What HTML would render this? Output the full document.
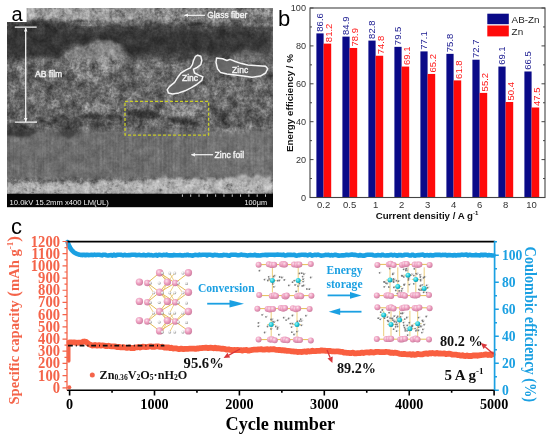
<!DOCTYPE html>
<html><head><meta charset="utf-8"><style>
html,body{margin:0;padding:0;background:#fff;}
body{width:550px;height:439px;overflow:hidden;}
svg{display:block;filter:blur(0.35px);}
</style></head><body>
<svg width="550" height="439" viewBox="0 0 550 439">
<rect width="550" height="439" fill="#fff"/>
<defs>
<clipPath id="semclip"><rect x="7" y="8" width="266" height="186"/></clipPath>
<filter id="tex" x="0" y="0" width="1" height="1" filterUnits="objectBoundingBox"><feTurbulence type="fractalNoise" baseFrequency="0.45" numOctaves="2" seed="4" result="n"/><feColorMatrix in="n" type="matrix" values="0 0 0 0 1  0 0 0 0 1  0 0 0 0 1  1.8 0 0 0 -0.9"/></filter>
<filter id="tex2" x="0" y="0" width="1" height="1" filterUnits="objectBoundingBox"><feTurbulence type="fractalNoise" baseFrequency="0.45" numOctaves="2" seed="11" result="n"/><feColorMatrix in="n" type="matrix" values="0 0 0 0 0  0 0 0 0 0  0 0 0 0 0  1.8 0 0 0 -0.9"/></filter>
<filter id="bl1" x="-10%" y="-10%" width="120%" height="120%"><feGaussianBlur stdDeviation="1"/></filter>
<filter id="bl2" x="-20%" y="-20%" width="140%" height="140%"><feGaussianBlur stdDeviation="2"/></filter>
<filter id="bl3" x="-20%" y="-20%" width="140%" height="140%"><feGaussianBlur stdDeviation="3.5"/></filter>
<linearGradient id="gfib" x1="0" y1="0" x2="1" y2="0"><stop offset="0" stop-color="#a0a0a0"/><stop offset="0.45" stop-color="#949494"/><stop offset="0.7" stop-color="#7e7e7e"/><stop offset="1" stop-color="#767676"/></linearGradient>
<linearGradient id="gfoil" x1="0" y1="0" x2="1" y2="0"><stop offset="0" stop-color="#6c6c6c"/><stop offset="0.6" stop-color="#6c6c6c"/><stop offset="1" stop-color="#747474"/></linearGradient>
</defs>
<g clip-path="url(#semclip)">
<rect x="7" y="8" width="266" height="186" fill="#646464"/>
<rect x="7" y="8" width="266" height="18" fill="url(#gfib)"/>
<rect x="7" y="20" width="266" height="6" fill="#707070" filter="url(#bl1)"/>
<path d="M7.0 26.9 L13.0 26.4 L19.0 24.8 L25.0 24.8 L31.0 25.2 L37.0 26.6 L43.0 27.8 L49.0 27.0 L55.0 26.3 L61.0 26.4 L67.0 25.1 L73.0 25.8 L79.0 25.6 L85.0 26.9 L91.0 27.2 L97.0 25.6 L103.0 25.3 L109.0 24.4 L115.0 23.3 L121.0 24.0 L127.0 25.4 L133.0 25.8 L139.0 24.1 L145.0 22.7 L151.0 22.3 L157.0 22.0 L163.0 23.2 L169.0 24.4 L175.0 24.7 L181.0 23.6 L187.0 22.7 L193.0 22.4 L199.0 23.3 L205.0 24.2 L211.0 25.0 L217.0 26.5 L223.0 25.6 L229.0 24.9 L235.0 24.0 L241.0 25.7 L247.0 26.8 L253.0 26.7 L259.0 27.2 L265.0 27.1 L271.0 26.1 L271.0 52.8 L267.0 54.9 L263.0 53.1 L259.0 53.6 L255.0 51.6 L251.0 50.2 L247.0 50.1 L243.0 50.6 L239.0 51.7 L235.0 51.9 L231.0 56.8 L227.0 58.7 L223.0 58.9 L219.0 57.2 L215.0 57.4 L211.0 55.4 L207.0 55.4 L203.0 54.0 L199.0 56.4 L195.0 57.1 L191.0 58.9 L187.0 60.0 L183.0 59.1 L179.0 61.0 L175.0 60.2 L171.0 57.6 L167.0 57.5 L163.0 56.7 L159.0 57.0 L155.0 57.3 L151.0 58.5 L147.0 59.9 L143.0 59.0 L139.0 61.4 L135.0 61.7 L131.0 59.5 L127.0 44.4 L123.0 44.0 L119.0 42.9 L115.0 43.7 L111.0 45.4 L107.0 46.5 L103.0 48.4 L99.0 47.7 L95.0 47.4 L91.0 46.9 L87.0 44.7 L83.0 43.7 L79.0 43.5 L75.0 44.0 L71.0 44.9 L67.0 52.9 L63.0 54.2 L59.0 59.3 L55.0 58.7 L51.0 58.3 L47.0 56.6 L43.0 56.5 L39.0 55.6 L35.0 55.3 L31.0 54.9 L27.0 56.7 L23.0 58.0 L19.0 59.3 L15.0 58.0 L11.0 57.7 L7.0 59.0Z" fill="#464646" filter="url(#bl1)"/>
<path d="M10.0 31.4 L18.0 29.5 L26.0 30.0 L34.0 31.6 L42.0 31.7 L50.0 30.8 L58.0 30.6 L66.0 29.1 L74.0 30.5 L82.0 33.3 L90.0 32.0 L98.0 31.0 L106.0 29.5 L114.0 30.8 L122.0 31.5 L130.0 32.6 L138.0 31.5 L146.0 29.6 L154.0 30.6 L162.0 32.1 L170.0 31.7 L178.0 31.7 L186.0 29.9 L194.0 29.5 L202.0 30.6 L210.0 33.2 L218.0 31.6 L226.0 30.3 L234.0 30.3 L242.0 31.4 L250.0 33.2 L258.0 31.8 L266.0 30.8 L266.0 47.0 L258.0 48.8 L250.0 47.7 L242.0 47.0 L234.0 50.0 L226.0 51.0 L218.0 52.9 L210.0 53.7 L202.0 51.7 L194.0 51.5 L186.0 51.3 L178.0 52.7 L170.0 53.7 L162.0 52.5 L154.0 50.6 L146.0 51.1 L138.0 55.4 L130.0 56.9 L122.0 45.9 L114.0 43.0 L106.0 41.8 L98.0 42.8 L90.0 44.7 L82.0 45.4 L74.0 43.4 L66.0 43.1 L58.0 52.6 L50.0 54.5 L42.0 54.3 L34.0 52.6 L26.0 51.1 L18.0 51.6 L10.0 52.6Z" fill="#363636" filter="url(#bl2)"/>
<path d="M7 22 L40 21 L66 23 L66 40 L62 50 L58 56 L40 57 L20 56 L7 55Z" fill="#353535" filter="url(#bl2)"/>
<path d="M64 55 L68 50 L74 49 L78 46 L84 47 L88 43 L94 42 L98 39 L104 41 L110 40 L114 43 L119 44 L121 49 L124 52 L125 58 L123 64 L118 70 L112 74 L104 79 L96 82 L88 80 L80 77 L74 71 L68 64Z" fill="#7c7c7c" filter="url(#bl1)"/>
<path d="M92 47 L100 43 L110 45 L117 50 L118 57 L113 63 L104 65 L96 61 L91 54Z" fill="#8a8a8a" filter="url(#bl2)"/>
<path d="M72 62 L84 60 L92 70 L84 76 L74 72Z" fill="#7a7a7a" filter="url(#bl1)"/>
<ellipse cx="30" cy="68" rx="16" ry="9" fill="#6e6e6e" filter="url(#bl2)"/>
<ellipse cx="150" cy="68" rx="18" ry="10" fill="#6e6e6e" filter="url(#bl2)"/>
<ellipse cx="215" cy="92" rx="25" ry="8" fill="#707070" filter="url(#bl2)"/>
<ellipse cx="255" cy="100" rx="16" ry="9" fill="#6e6e6e" filter="url(#bl2)"/>
<ellipse cx="45" cy="100" rx="22" ry="8" fill="#6e6e6e" filter="url(#bl2)"/>
<ellipse cx="110" cy="95" rx="20" ry="8" fill="#707070" filter="url(#bl2)"/>
<ellipse cx="140" cy="100" rx="15" ry="5" fill="#6c6c6c" filter="url(#bl2)"/>
<ellipse cx="60" cy="85" rx="12" ry="6" fill="#666" filter="url(#bl2)"/>
<ellipse cx="130" cy="85" rx="10" ry="6" fill="#686868" filter="url(#bl2)"/>
<ellipse cx="240" cy="80" rx="14" ry="6" fill="#6a6a6a" filter="url(#bl2)"/>
<path d="M7.0 130.3 L11.0 130.6 L15.0 131.2 L19.0 131.6 L23.0 132.3 L27.0 131.4 L31.0 131.8 L35.0 132.0 L39.0 131.0 L43.0 130.8 L47.0 129.6 L51.0 136.0 L55.0 136.1 L59.0 137.1 L63.0 137.7 L67.0 137.4 L71.0 137.6 L75.0 137.4 L79.0 137.6 L83.0 130.9 L87.0 129.7 L91.0 130.4 L95.0 129.8 L99.0 130.9 L103.0 130.9 L107.0 131.2 L111.0 132.4 L115.0 131.5 L119.0 131.1 L123.0 131.4 L127.0 127.7 L131.0 126.8 L135.0 127.6 L139.0 127.5 L143.0 128.3 L147.0 128.3 L151.0 129.5 L155.0 129.2 L159.0 129.2 L163.0 128.6 L167.0 127.3 L171.0 126.9 L175.0 126.6 L179.0 126.8 L183.0 127.3 L187.0 128.1 L191.0 128.9 L195.0 128.4 L199.0 129.0 L203.0 128.2 L207.0 127.5 L211.0 126.6 L215.0 126.0 L219.0 125.9 L223.0 126.5 L227.0 127.3 L231.0 127.1 L235.0 128.5 L239.0 127.4 L243.0 127.9 L247.0 127.5 L251.0 125.9 L255.0 126.4 L259.0 125.9 L263.0 126.4 L267.0 126.2 L271.0 126.9 L271.0 175.2 L267.0 177.2 L263.0 179.1 L259.0 177.8 L255.0 175.5 L251.0 176.0 L247.0 175.7 L243.0 178.5 L239.0 179.0 L235.0 176.3 L231.0 174.9 L227.0 179.1 L223.0 180.3 L219.0 181.1 L215.0 180.5 L211.0 178.0 L207.0 178.9 L203.0 181.1 L199.0 180.8 L195.0 180.8 L191.0 178.6 L187.0 178.8 L183.0 179.8 L179.0 180.6 L175.0 181.8 L171.0 179.8 L167.0 178.9 L163.0 179.9 L159.0 181.2 L155.0 182.0 L151.0 180.5 L147.0 182.3 L143.0 183.5 L139.0 184.4 L135.0 185.6 L131.0 184.9 L127.0 182.3 L123.0 183.1 L119.0 184.0 L115.0 184.8 L111.0 184.4 L107.0 183.4 L103.0 183.2 L99.0 183.4 L95.0 185.1 L91.0 185.5 L87.0 183.5 L83.0 183.1 L79.0 183.3 L75.0 185.8 L71.0 185.3 L67.0 183.0 L63.0 182.8 L59.0 183.4 L55.0 184.8 L51.0 185.8 L47.0 184.6 L43.0 182.2 L39.0 183.5 L35.0 184.4 L31.0 186.0 L27.0 184.4 L23.0 183.1 L19.0 181.8 L15.0 183.8 L11.0 185.4 L7.0 185.4Z" fill="url(#gfoil)" filter="url(#bl1)"/>
<path d="M7 124 L16 123 L28 126 L36 131 L30 137 L18 137 L7 136Z" fill="#3e3e3e" filter="url(#bl1)"/>
<path d="M50 116 L60 115 L70 118 L78 122 L80 128 L75 136 L68 139 L60 134 L55 124Z" fill="#474747" filter="url(#bl1)"/>
<path d="M80 115 L95 114 L110 115 L124 117 L124 120 L110 120 L95 119 L80 119Z" fill="#404040" filter="url(#bl1)"/>
<path d="M88 120 L104 121 L116 123 L112 129 L100 131 L90 127Z" fill="#535353" filter="url(#bl1)"/>
<path d="M126 111 L136 110 L148 111 L160 114 L163 118 L150 119 L138 118 L128 116Z" fill="#383838" filter="url(#bl1)"/>
<path d="M166 117 L178 118 L190 120 L198 122 L196 126 L184 125 L172 122Z" fill="#3e3e3e" filter="url(#bl1)"/>
<path d="M210 110 L218 108 L228 114 L234 122 L228 129 L218 126 L212 118Z" fill="#505050" filter="url(#bl1)"/>
<path d="M236 112 L250 110 L262 114 L272 118 L272 122 L256 121 L242 118Z" fill="#5a5a5a" filter="url(#bl1)"/>
<path d="M165 105 L185 103 L200 106 L204 114 L190 117 L170 115Z" fill="#858585" filter="url(#bl1)"/>
<path d="M84 104 L100 102 L118 106 L120 113 L100 113 L86 111Z" fill="#858585" filter="url(#bl1)"/>
<path d="M7.0 181.0 L10.0 182.8 L13.0 183.3 L16.0 184.3 L19.0 182.6 L22.0 180.9 L25.0 182.2 L28.0 183.0 L31.0 184.3 L34.0 182.5 L37.0 181.1 L40.0 181.8 L43.0 184.0 L46.0 183.8 L49.0 183.1 L52.0 182.3 L55.0 182.5 L58.0 183.1 L61.0 184.1 L64.0 184.7 L67.0 181.6 L70.0 182.2 L73.0 182.3 L76.0 183.5 L79.0 183.5 L82.0 182.4 L85.0 182.2 L88.0 181.7 L91.0 184.0 L94.0 184.6 L97.0 182.9 L100.0 179.8 L103.0 179.2 L106.0 180.8 L109.0 181.9 L112.0 181.8 L115.0 179.9 L118.0 179.4 L121.0 181.3 L124.0 182.3 L127.0 181.5 L130.0 180.8 L133.0 180.0 L136.0 180.3 L139.0 182.3 L142.0 182.2 L145.0 181.3 L148.0 180.0 L151.0 177.5 L154.0 180.2 L157.0 179.2 L160.0 178.4 L163.0 177.6 L166.0 176.9 L169.0 179.1 L172.0 179.1 L175.0 179.2 L178.0 177.9 L181.0 177.4 L184.0 179.3 L187.0 179.6 L190.0 179.6 L193.0 177.9 L196.0 177.3 L199.0 178.2 L202.0 180.3 L205.0 180.3 L208.0 178.0 L211.0 177.4 L214.0 177.2 L217.0 179.8 L220.0 180.0 L223.0 179.3 L226.0 177.7 L229.0 177.2 L232.0 176.5 L235.0 177.7 L238.0 175.5 L241.0 174.8 L244.0 174.3 L247.0 175.7 L250.0 176.6 L253.0 177.2 L256.0 174.5 L259.0 174.2 L262.0 175.7 L265.0 177.9 L268.0 176.3 L271.0 175.4 L273.0 194.0 L7.0 194.0Z" fill="#b0b0b0" filter="url(#bl1)"/>
<ellipse cx="67.9" cy="192.6" rx="0.8" ry="0.9" fill="#767676" opacity="0.6"/>
<ellipse cx="30.5" cy="184.7" rx="1.8" ry="0.6" fill="#767676" opacity="0.6"/>
<ellipse cx="177.5" cy="187.1" rx="1.1" ry="0.8" fill="#767676" opacity="0.6"/>
<ellipse cx="58.7" cy="191.1" rx="0.7" ry="0.6" fill="#767676" opacity="0.6"/>
<ellipse cx="13.3" cy="184.9" rx="1.1" ry="1.0" fill="#767676" opacity="0.6"/>
<ellipse cx="108.1" cy="183.3" rx="0.9" ry="1.1" fill="#767676" opacity="0.6"/>
<ellipse cx="24.7" cy="188.8" rx="1.1" ry="0.9" fill="#767676" opacity="0.6"/>
<ellipse cx="97.3" cy="189.6" rx="1.2" ry="0.9" fill="#767676" opacity="0.6"/>
<ellipse cx="246.0" cy="188.4" rx="0.8" ry="0.5" fill="#767676" opacity="0.6"/>
<ellipse cx="257.8" cy="187.4" rx="0.8" ry="1.1" fill="#767676" opacity="0.6"/>
<ellipse cx="160.8" cy="190.0" rx="1.7" ry="0.7" fill="#767676" opacity="0.6"/>
<ellipse cx="102.2" cy="191.7" rx="0.8" ry="1.0" fill="#767676" opacity="0.6"/>
<ellipse cx="33.8" cy="189.6" rx="1.4" ry="1.1" fill="#767676" opacity="0.6"/>
<ellipse cx="230.7" cy="187.5" rx="0.8" ry="0.6" fill="#767676" opacity="0.6"/>
<ellipse cx="147.6" cy="187.6" rx="0.7" ry="1.0" fill="#767676" opacity="0.6"/>
<ellipse cx="142.0" cy="189.7" rx="0.9" ry="0.6" fill="#767676" opacity="0.6"/>
<ellipse cx="11.1" cy="185.8" rx="0.9" ry="0.8" fill="#767676" opacity="0.6"/>
<ellipse cx="107.5" cy="191.2" rx="1.7" ry="0.6" fill="#767676" opacity="0.6"/>
<ellipse cx="112.6" cy="183.8" rx="1.4" ry="1.1" fill="#767676" opacity="0.6"/>
<ellipse cx="61.3" cy="190.4" rx="1.0" ry="0.5" fill="#767676" opacity="0.6"/>
<ellipse cx="209.8" cy="185.8" rx="0.8" ry="0.8" fill="#767676" opacity="0.6"/>
<ellipse cx="69.2" cy="186.5" rx="1.1" ry="0.8" fill="#767676" opacity="0.6"/>
<ellipse cx="163.4" cy="185.2" rx="0.7" ry="0.6" fill="#767676" opacity="0.6"/>
<ellipse cx="36.1" cy="187.7" rx="1.0" ry="1.0" fill="#767676" opacity="0.6"/>
<ellipse cx="141.3" cy="189.8" rx="1.8" ry="0.5" fill="#767676" opacity="0.6"/>
<ellipse cx="12.5" cy="183.5" rx="1.1" ry="0.8" fill="#767676" opacity="0.6"/>
<ellipse cx="204.4" cy="185.9" rx="1.8" ry="0.5" fill="#767676" opacity="0.6"/>
<ellipse cx="228.6" cy="184.3" rx="1.7" ry="0.5" fill="#767676" opacity="0.6"/>
<ellipse cx="262.8" cy="190.4" rx="1.8" ry="0.8" fill="#767676" opacity="0.6"/>
<ellipse cx="54.9" cy="192.7" rx="1.1" ry="0.6" fill="#767676" opacity="0.6"/>
<ellipse cx="167.8" cy="187.5" rx="1.2" ry="0.6" fill="#767676" opacity="0.6"/>
<ellipse cx="40.2" cy="188.4" rx="1.1" ry="0.6" fill="#767676" opacity="0.6"/>
<ellipse cx="124.0" cy="190.0" rx="1.5" ry="0.8" fill="#767676" opacity="0.6"/>
<ellipse cx="112.0" cy="186.0" rx="0.9" ry="0.6" fill="#767676" opacity="0.6"/>
<ellipse cx="125.8" cy="183.2" rx="1.5" ry="0.9" fill="#767676" opacity="0.6"/>
<ellipse cx="169.4" cy="182.2" rx="1.0" ry="0.8" fill="#767676" opacity="0.6"/>
<ellipse cx="32.6" cy="192.6" rx="1.5" ry="0.8" fill="#767676" opacity="0.6"/>
<ellipse cx="194.2" cy="184.2" rx="0.9" ry="0.8" fill="#767676" opacity="0.6"/>
<ellipse cx="204.4" cy="189.1" rx="0.6" ry="0.9" fill="#767676" opacity="0.6"/>
<ellipse cx="247.9" cy="190.2" rx="1.7" ry="1.1" fill="#767676" opacity="0.6"/>
<ellipse cx="67.0" cy="185.3" rx="1.3" ry="1.1" fill="#767676" opacity="0.6"/>
<ellipse cx="105.5" cy="192.4" rx="1.6" ry="0.8" fill="#767676" opacity="0.6"/>
<ellipse cx="173.0" cy="192.5" rx="1.5" ry="0.7" fill="#767676" opacity="0.6"/>
<ellipse cx="231.3" cy="184.2" rx="1.0" ry="1.1" fill="#767676" opacity="0.6"/>
<ellipse cx="231.6" cy="185.4" rx="0.9" ry="0.9" fill="#767676" opacity="0.6"/>
<ellipse cx="230.5" cy="189.5" rx="1.7" ry="0.9" fill="#767676" opacity="0.6"/>
<ellipse cx="224.7" cy="188.7" rx="1.0" ry="0.8" fill="#767676" opacity="0.6"/>
<ellipse cx="137.3" cy="187.8" rx="1.6" ry="0.7" fill="#767676" opacity="0.6"/>
<ellipse cx="26.1" cy="190.1" rx="0.9" ry="0.8" fill="#767676" opacity="0.6"/>
<ellipse cx="38.9" cy="191.1" rx="0.9" ry="0.7" fill="#767676" opacity="0.6"/>
<ellipse cx="220.3" cy="187.5" rx="0.9" ry="1.0" fill="#767676" opacity="0.6"/>
<ellipse cx="116.7" cy="186.0" rx="1.8" ry="1.0" fill="#767676" opacity="0.6"/>
<ellipse cx="205.3" cy="184.7" rx="1.6" ry="0.9" fill="#767676" opacity="0.6"/>
<ellipse cx="227.0" cy="186.0" rx="1.5" ry="1.0" fill="#767676" opacity="0.6"/>
<ellipse cx="110.4" cy="189.2" rx="1.5" ry="1.1" fill="#767676" opacity="0.6"/>
<ellipse cx="251.0" cy="190.6" rx="0.8" ry="0.9" fill="#767676" opacity="0.6"/>
<ellipse cx="188.9" cy="183.0" rx="1.2" ry="1.0" fill="#767676" opacity="0.6"/>
<ellipse cx="247.0" cy="192.2" rx="0.7" ry="0.9" fill="#767676" opacity="0.6"/>
<ellipse cx="236.4" cy="189.2" rx="1.0" ry="0.5" fill="#767676" opacity="0.6"/>
<ellipse cx="250.8" cy="191.4" rx="1.4" ry="0.7" fill="#767676" opacity="0.6"/>
<filter id="tx" color-interpolation-filters="sRGB" x="0" y="0" width="1" height="1" filterUnits="objectBoundingBox"><feTurbulence type="fractalNoise" baseFrequency="0.11" numOctaves="4" seed="4"/><feGaussianBlur stdDeviation="0.6"/><feColorMatrix type="matrix" values="1.1 0 0 0 -0.05  1.1 0 0 0 -0.05  1.1 0 0 0 -0.05  0 0 0 0 1"/></filter>
<filter id="txv" color-interpolation-filters="sRGB" x="0" y="0" width="1" height="1" filterUnits="objectBoundingBox"><feTurbulence type="fractalNoise" baseFrequency="0.45 0.012" numOctaves="2" seed="5"/><feColorMatrix type="matrix" values="1.6 0 0 0 -0.3  1.6 0 0 0 -0.3  1.6 0 0 0 -0.3  0 0 0 0 1"/></filter>
<linearGradient id="txg" x1="0" y1="0" x2="0" y2="1"><stop offset="0" stop-color="#fff"/><stop offset="0.08" stop-color="#fff"/><stop offset="0.14" stop-color="#999"/><stop offset="0.24" stop-color="#999"/><stop offset="0.3" stop-color="#fff"/><stop offset="0.64" stop-color="#fff"/><stop offset="0.68" stop-color="#555"/><stop offset="0.9" stop-color="#555"/><stop offset="0.93" stop-color="#fff"/><stop offset="1" stop-color="#fff"/></linearGradient>
<mask id="txm" maskUnits="userSpaceOnUse" x="7" y="8" width="266" height="186"><rect x="7" y="8" width="266" height="186" fill="url(#txg)"/></mask>
<linearGradient id="txvg" x1="0" y1="0" x2="0" y2="1"><stop offset="0" stop-color="#000"/><stop offset="0.64" stop-color="#000"/><stop offset="0.7" stop-color="#fff"/><stop offset="0.88" stop-color="#fff"/><stop offset="0.92" stop-color="#000"/><stop offset="1" stop-color="#000"/></linearGradient>
<mask id="txvm" maskUnits="userSpaceOnUse" x="7" y="8" width="266" height="186"><rect x="7" y="8" width="266" height="186" fill="url(#txvg)"/></mask>
<filter id="txf" color-interpolation-filters="sRGB" x="0" y="0" width="1" height="1" filterUnits="objectBoundingBox"><feTurbulence type="fractalNoise" baseFrequency="0.4" numOctaves="2" seed="17"/><feGaussianBlur stdDeviation="0.4"/><feColorMatrix type="matrix" values="1.3 0 0 0 -0.15  1.3 0 0 0 -0.15  1.3 0 0 0 -0.15  0 0 0 0 1"/></filter>
<g mask="url(#txm)" style="mix-blend-mode:overlay" opacity="0.3"><rect x="7" y="8" width="266" height="186" filter="url(#txf)"/></g>
<g mask="url(#txm)" style="mix-blend-mode:overlay" opacity="0.55"><rect x="7" y="8" width="266" height="186" filter="url(#tx)"/></g>
<g mask="url(#txvm)" style="mix-blend-mode:overlay" opacity="0.08"><rect x="7" y="8" width="266" height="186" filter="url(#txv)"/></g>
</g>
<rect x="7" y="193.8" width="266" height="13.4" fill="#050505"/>
<text x="9.6" y="204.8" font-family="Liberation Sans, sans-serif" font-size="7.6" fill="#f0f0f0">10.0kV 15.2mm x400 LM(UL)</text>
<text x="244.5" y="205.2" font-family="Liberation Sans, sans-serif" font-size="7.3" fill="#f0f0f0">100μm</text>
<path d="M182.40 194.4v2.4M190.71 194.4v2.4M199.02 194.4v2.4M207.33 194.4v2.4M215.64 194.4v2.4M223.95 194.4v2.4M232.26 194.4v2.4M240.57 194.4v2.4M248.88 194.4v2.4M257.19 194.4v2.4M265.50 194.4v2.4" stroke="#e8e8e8" stroke-width="0.9"/>
<path d="M14.8 27.2H36.7M14.8 122.2H37M25.7 28v94" stroke="#f4f4f4" stroke-width="1.3" fill="none"/>
<path d="M25.7 27.5l-1.8 4h3.6z M25.7 122l-1.8 -4h3.6z" fill="#f4f4f4"/>
<text x="35" y="77.3" font-family="Liberation Sans, sans-serif" font-size="8.6" fill="#f4f4f4" stroke="#f4f4f4" stroke-width="0.35">AB film</text>
<path d="M184.5 15.3H205" stroke="#f4f4f4" stroke-width="1.2"/><path d="M184 15.3l4 -1.8v3.6z" fill="#f4f4f4"/>
<text x="207.2" y="18.3" font-family="Liberation Sans, sans-serif" font-size="8.4" fill="#f4f4f4" stroke="#f4f4f4" stroke-width="0.35">Glass fiber</text>
<path d="M191.5 154.7H213" stroke="#f4f4f4" stroke-width="1.2"/><path d="M191 154.7l4 -1.8v3.6z" fill="#f4f4f4"/>
<text x="214.5" y="157.7" font-family="Liberation Sans, sans-serif" font-size="8.6" fill="#f4f4f4" stroke="#f4f4f4" stroke-width="0.35">Zinc foil</text>
<path d="M197.6 55.2 L200.8 56.3 L201.8 60.5 L200.8 64.6 L196.6 67.8 L193.5 69.2 L194.5 73.0 L198.7 75.1 L202.9 76.8 L201.8 80.3 L196.6 84.5 L191.4 87.6 L185.1 90.8 L178.8 92.9 L172.5 93.9 L168.4 92.9 L167.3 89.7 L169.4 86.6 L174.6 82.4 L177.8 77.2 L180.9 73.0 L186.1 69.9 L190.3 67.8 L192.4 64.6 L193.5 60.5 L195.5 56.3Z" fill="#686868" fill-opacity="0.85" stroke="#f4f4f4" stroke-width="1.5" stroke-linejoin="round"/>
<path d="M216.5 57.9 L222.7 58.8 L226.9 60.5 L230.0 59.4 L235.3 61.5 L241.5 63.6 L247.8 65.1 L258.3 65.7 L265.6 66.3 L267.7 68.8 L265.6 73.0 L260.4 76.1 L252.0 77.2 L243.6 76.1 L235.3 75.1 L226.9 74.0 L220.6 72.6 L217.5 68.8 L216.0 62.5Z" fill="#686868" fill-opacity="0.85" stroke="#f4f4f4" stroke-width="1.5" stroke-linejoin="round"/>
<text x="182" y="80.8" font-family="Liberation Sans, sans-serif" font-size="8.5" fill="#f4f4f4" stroke="#f4f4f4" stroke-width="0.35">Zinc</text>
<text x="232.1" y="72.9" font-family="Liberation Sans, sans-serif" font-size="8.5" fill="#f4f4f4" stroke="#f4f4f4" stroke-width="0.35">Zinc</text>
<rect x="125" y="101.3" width="83.6" height="33.8" fill="none" stroke="#c8cc28" stroke-width="1.3" stroke-dasharray="3 2"/>
<rect x="7" y="8" width="19.6" height="14" fill="#fff"/>
<text x="11.6" y="21" font-family="Liberation Sans, sans-serif" font-size="20" fill="#000">a</text>
<rect x="316.40" y="33.39" width="7.2" height="164.11" fill="#0a0a88"/>
<rect x="323.60" y="43.63" width="7.6" height="153.87" fill="#ff0a0a"/>
<text transform="translate(323.20 31.69) rotate(-90)" font-family="Liberation Sans, sans-serif" font-size="9.5" fill="#1a1a90">86.6</text>
<text transform="translate(332.40 42.13) rotate(-90)" font-family="Liberation Sans, sans-serif" font-size="9.5" fill="#ff1a1a">81.2</text>
<text x="323.60" y="208.2" text-anchor="middle" font-family="Liberation Sans, sans-serif" font-size="9.5" fill="#333">0.2</text>
<rect x="342.40" y="36.61" width="7.2" height="160.89" fill="#0a0a88"/>
<rect x="349.60" y="47.98" width="7.6" height="149.52" fill="#ff0a0a"/>
<text transform="translate(349.20 34.91) rotate(-90)" font-family="Liberation Sans, sans-serif" font-size="9.5" fill="#1a1a90">84.9</text>
<text transform="translate(358.40 46.48) rotate(-90)" font-family="Liberation Sans, sans-serif" font-size="9.5" fill="#ff1a1a">78.9</text>
<text x="349.60" y="208.2" text-anchor="middle" font-family="Liberation Sans, sans-serif" font-size="9.5" fill="#333">0.5</text>
<rect x="368.40" y="40.59" width="7.2" height="156.91" fill="#0a0a88"/>
<rect x="375.60" y="55.75" width="7.6" height="141.75" fill="#ff0a0a"/>
<text transform="translate(375.20 38.89) rotate(-90)" font-family="Liberation Sans, sans-serif" font-size="9.5" fill="#1a1a90">82.8</text>
<text transform="translate(384.40 54.25) rotate(-90)" font-family="Liberation Sans, sans-serif" font-size="9.5" fill="#ff1a1a">74.8</text>
<text x="375.60" y="208.2" text-anchor="middle" font-family="Liberation Sans, sans-serif" font-size="9.5" fill="#333">1</text>
<rect x="394.40" y="46.85" width="7.2" height="150.65" fill="#0a0a88"/>
<rect x="401.60" y="66.56" width="7.6" height="130.94" fill="#ff0a0a"/>
<text transform="translate(401.20 45.15) rotate(-90)" font-family="Liberation Sans, sans-serif" font-size="9.5" fill="#1a1a90">79.5</text>
<text transform="translate(410.40 65.06) rotate(-90)" font-family="Liberation Sans, sans-serif" font-size="9.5" fill="#ff1a1a">69.1</text>
<text x="401.60" y="208.2" text-anchor="middle" font-family="Liberation Sans, sans-serif" font-size="9.5" fill="#333">2</text>
<rect x="420.40" y="51.40" width="7.2" height="146.10" fill="#0a0a88"/>
<rect x="427.60" y="73.95" width="7.6" height="123.55" fill="#ff0a0a"/>
<text transform="translate(427.20 49.70) rotate(-90)" font-family="Liberation Sans, sans-serif" font-size="9.5" fill="#1a1a90">77.1</text>
<text transform="translate(436.40 72.45) rotate(-90)" font-family="Liberation Sans, sans-serif" font-size="9.5" fill="#ff1a1a">65.2</text>
<text x="427.60" y="208.2" text-anchor="middle" font-family="Liberation Sans, sans-serif" font-size="9.5" fill="#333">3</text>
<rect x="446.40" y="53.86" width="7.2" height="143.64" fill="#0a0a88"/>
<rect x="453.60" y="80.39" width="7.6" height="117.11" fill="#ff0a0a"/>
<text transform="translate(453.20 52.16) rotate(-90)" font-family="Liberation Sans, sans-serif" font-size="9.5" fill="#1a1a90">75.8</text>
<text transform="translate(462.40 78.89) rotate(-90)" font-family="Liberation Sans, sans-serif" font-size="9.5" fill="#ff1a1a">61.8</text>
<text x="453.60" y="208.2" text-anchor="middle" font-family="Liberation Sans, sans-serif" font-size="9.5" fill="#333">4</text>
<rect x="472.40" y="59.73" width="7.2" height="137.77" fill="#0a0a88"/>
<rect x="479.60" y="92.90" width="7.6" height="104.60" fill="#ff0a0a"/>
<text transform="translate(479.20 58.03) rotate(-90)" font-family="Liberation Sans, sans-serif" font-size="9.5" fill="#1a1a90">72.7</text>
<text transform="translate(488.40 91.40) rotate(-90)" font-family="Liberation Sans, sans-serif" font-size="9.5" fill="#ff1a1a">55.2</text>
<text x="479.60" y="208.2" text-anchor="middle" font-family="Liberation Sans, sans-serif" font-size="9.5" fill="#333">6</text>
<rect x="498.40" y="66.56" width="7.2" height="130.94" fill="#0a0a88"/>
<rect x="505.60" y="101.99" width="7.6" height="95.51" fill="#ff0a0a"/>
<text transform="translate(505.20 64.86) rotate(-90)" font-family="Liberation Sans, sans-serif" font-size="9.5" fill="#1a1a90">69.1</text>
<text transform="translate(514.40 100.49) rotate(-90)" font-family="Liberation Sans, sans-serif" font-size="9.5" fill="#ff1a1a">50.4</text>
<text x="505.60" y="208.2" text-anchor="middle" font-family="Liberation Sans, sans-serif" font-size="9.5" fill="#333">8</text>
<rect x="524.40" y="71.48" width="7.2" height="126.02" fill="#0a0a88"/>
<rect x="531.60" y="107.49" width="7.6" height="90.01" fill="#ff0a0a"/>
<text transform="translate(531.20 69.78) rotate(-90)" font-family="Liberation Sans, sans-serif" font-size="9.5" fill="#1a1a90">66.5</text>
<text transform="translate(540.40 105.99) rotate(-90)" font-family="Liberation Sans, sans-serif" font-size="9.5" fill="#ff1a1a">47.5</text>
<text x="531.60" y="208.2" text-anchor="middle" font-family="Liberation Sans, sans-serif" font-size="9.5" fill="#333">10</text>
<rect x="310" y="8" width="235" height="189.5" fill="none" stroke="#444" stroke-width="1.1"/>
<path d="M310 197.50h3.5M545 197.50h-3.5M310 178.55h2M545 178.55h-2M310 159.60h3.5M545 159.60h-3.5M310 140.65h2M545 140.65h-2M310 121.70h3.5M545 121.70h-3.5M310 102.75h2M545 102.75h-2M310 83.80h3.5M545 83.80h-3.5M310 64.85h2M545 64.85h-2M310 45.90h3.5M545 45.90h-3.5M310 26.95h2M545 26.95h-2M310 8.00h3.5M545 8.00h-3.5" stroke="#444" stroke-width="1"/>
<text x="306" y="200.80" text-anchor="end" font-family="Liberation Sans, sans-serif" font-size="9.1" fill="#333">0</text>
<text x="306" y="162.90" text-anchor="end" font-family="Liberation Sans, sans-serif" font-size="9.1" fill="#333">20</text>
<text x="306" y="125.00" text-anchor="end" font-family="Liberation Sans, sans-serif" font-size="9.1" fill="#333">40</text>
<text x="306" y="87.10" text-anchor="end" font-family="Liberation Sans, sans-serif" font-size="9.1" fill="#333">60</text>
<text x="306" y="49.20" text-anchor="end" font-family="Liberation Sans, sans-serif" font-size="9.1" fill="#333">80</text>
<text x="306" y="11.30" text-anchor="end" font-family="Liberation Sans, sans-serif" font-size="9.1" fill="#333">100</text>
<text transform="translate(293 103) rotate(-90)" text-anchor="middle" font-family="Liberation Sans, sans-serif" font-weight="bold" font-size="9.8" fill="#111">Energy efficiency / %</text>
<text x="375.7" y="219.4" font-family="Liberation Sans, sans-serif" font-weight="bold" font-size="9.7" fill="#111">Current densitiy / A g<tspan font-size="6" dy="-4">-1</tspan></text>
<rect x="487.3" y="13.7" width="21.5" height="10.5" fill="#0a0a88"/>
<rect x="487.3" y="25.5" width="21.5" height="10.9" fill="#ff0a0a"/>
<text x="511.6" y="22.5" font-family="Liberation Sans, sans-serif" font-size="9.9" fill="#222">AB-Zn</text>
<text x="511.6" y="34.7" font-family="Liberation Sans, sans-serif" font-size="9.9" fill="#222">Zn</text>
<text x="278" y="26.3" font-family="Liberation Sans, sans-serif" font-size="22" fill="#000">b</text>
<defs><radialGradient id="pk" cx="0.38" cy="0.35" r="0.7"><stop offset="0" stop-color="#fbe0ec"/><stop offset="0.5" stop-color="#ee9fc0"/><stop offset="1" stop-color="#c97a9c"/></radialGradient><radialGradient id="gy" cx="0.38" cy="0.35" r="0.75"><stop offset="0" stop-color="#ffffff"/><stop offset="0.5" stop-color="#d8d8d8"/><stop offset="1" stop-color="#6e6e6e"/></radialGradient><radialGradient id="cy" cx="0.38" cy="0.35" r="0.7"><stop offset="0" stop-color="#8ff4f8"/><stop offset="0.6" stop-color="#19c4d6"/><stop offset="1" stop-color="#0a8fa0"/></radialGradient></defs>
<path d="M159.6 272.8L147.3 283.0M159.6 272.8L167.4 282.1M159.6 272.8L175.2 283.0M188.4 272.8L175.2 283.0M159.6 292.2L147.3 283.0M159.6 292.2L167.4 282.1M159.6 292.2L175.2 283.0M159.6 292.2L147.3 302.2M159.6 292.2L167.4 301.4M159.6 292.2L175.2 302.2M188.4 292.2L175.2 283.0M188.4 292.2L175.2 302.2M159.6 311.5L147.3 302.2M159.6 311.5L167.4 301.4M159.6 311.5L175.2 302.2M159.6 311.5L147.3 321.5M159.6 311.5L167.4 320.6M159.6 311.5L175.2 321.5M188.4 311.5L175.2 302.2M188.4 311.5L175.2 321.5M159.6 330.9L147.3 321.5M159.6 330.9L167.4 320.6M159.6 330.9L175.2 321.5M188.4 330.9L175.2 321.5" stroke="#e6bd55" stroke-width="1.0"/>
<path d="M162.4 273.1L167.4 282.1M169.7 273.1L175.2 283.0M174.7 273.1L167.4 282.1M162.4 292.8L167.4 282.1M162.4 292.8L167.4 301.4M169.7 292.8L175.2 283.0M169.7 292.8L175.2 302.2M174.7 292.8L167.4 301.4M182.9 292.8L175.2 283.0M182.9 292.8L175.2 302.2M162.4 312.9L167.4 320.6M169.7 312.9L175.2 302.2M169.7 312.9L175.2 321.5M174.7 312.9L167.4 320.6M182.9 312.9L175.2 321.5M162.4 332.0L167.4 320.6M169.7 332.0L175.2 321.5M153.7 292.8L147.3 283.0M153.7 292.8L147.3 302.2M153.7 312.9L147.3 302.2M153.7 312.9L147.3 321.5" stroke="#e6bd55" stroke-width="0.8" opacity="0.9"/>
<circle cx="159.6" cy="272.8" r="3.7" fill="url(#pk)"/>
<circle cx="188.4" cy="272.8" r="3.7" fill="url(#pk)"/>
<circle cx="159.6" cy="292.2" r="3.7" fill="url(#pk)"/>
<circle cx="188.4" cy="292.2" r="3.7" fill="url(#pk)"/>
<circle cx="159.6" cy="311.5" r="3.7" fill="url(#pk)"/>
<circle cx="188.4" cy="311.5" r="3.7" fill="url(#pk)"/>
<circle cx="159.6" cy="330.9" r="3.7" fill="url(#pk)"/>
<circle cx="188.4" cy="330.9" r="3.7" fill="url(#pk)"/>
<circle cx="139.4" cy="282.1" r="3.7" fill="url(#pk)"/>
<circle cx="167.4" cy="282.1" r="3.7" fill="url(#pk)"/>
<circle cx="139.4" cy="301.4" r="3.7" fill="url(#pk)"/>
<circle cx="167.4" cy="301.4" r="3.7" fill="url(#pk)"/>
<circle cx="139.4" cy="320.6" r="3.7" fill="url(#pk)"/>
<circle cx="167.4" cy="320.6" r="3.7" fill="url(#pk)"/>
<circle cx="147.3" cy="283.0" r="3.2" fill="url(#pk)"/>
<circle cx="175.2" cy="283.0" r="3.2" fill="url(#pk)"/>
<circle cx="147.3" cy="302.2" r="3.2" fill="url(#pk)"/>
<circle cx="175.2" cy="302.2" r="3.2" fill="url(#pk)"/>
<circle cx="147.3" cy="321.5" r="3.2" fill="url(#pk)"/>
<circle cx="175.2" cy="321.5" r="3.2" fill="url(#pk)"/>
<circle cx="162.4" cy="273.1" r="1.5" fill="url(#gy)"/>
<circle cx="169.7" cy="273.1" r="1.5" fill="url(#gy)"/>
<circle cx="174.7" cy="273.1" r="1.5" fill="url(#gy)"/>
<circle cx="182.9" cy="273.1" r="1.5" fill="url(#gy)"/>
<circle cx="162.4" cy="292.8" r="1.5" fill="url(#gy)"/>
<circle cx="169.7" cy="292.8" r="1.5" fill="url(#gy)"/>
<circle cx="174.7" cy="292.8" r="1.5" fill="url(#gy)"/>
<circle cx="182.9" cy="292.8" r="1.5" fill="url(#gy)"/>
<circle cx="162.4" cy="312.9" r="1.5" fill="url(#gy)"/>
<circle cx="169.7" cy="312.9" r="1.5" fill="url(#gy)"/>
<circle cx="174.7" cy="312.9" r="1.5" fill="url(#gy)"/>
<circle cx="182.9" cy="312.9" r="1.5" fill="url(#gy)"/>
<circle cx="162.4" cy="332.0" r="1.5" fill="url(#gy)"/>
<circle cx="169.7" cy="332.0" r="1.5" fill="url(#gy)"/>
<circle cx="174.7" cy="332.0" r="1.5" fill="url(#gy)"/>
<circle cx="182.9" cy="332.0" r="1.5" fill="url(#gy)"/>
<circle cx="150.4" cy="283.0" r="1.5" fill="url(#gy)"/>
<circle cx="159.2" cy="283.0" r="1.5" fill="url(#gy)"/>
<circle cx="178.3" cy="283.0" r="1.5" fill="url(#gy)"/>
<circle cx="186.5" cy="283.5" r="1.5" fill="url(#gy)"/>
<circle cx="150.4" cy="302.5" r="1.5" fill="url(#gy)"/>
<circle cx="159.2" cy="302.5" r="1.5" fill="url(#gy)"/>
<circle cx="178.3" cy="302.5" r="1.5" fill="url(#gy)"/>
<circle cx="186.5" cy="303.0" r="1.5" fill="url(#gy)"/>
<circle cx="150.4" cy="322.0" r="1.5" fill="url(#gy)"/>
<circle cx="159.2" cy="322.0" r="1.5" fill="url(#gy)"/>
<circle cx="178.3" cy="322.0" r="1.5" fill="url(#gy)"/>
<circle cx="186.5" cy="322.5" r="1.5" fill="url(#gy)"/>
<circle cx="153.7" cy="292.8" r="1.5" fill="url(#gy)"/>
<circle cx="153.7" cy="312.9" r="1.5" fill="url(#gy)"/>
<path d="M258.0 264.6H311.0M258.0 295.6H311.0" stroke="#e6bd55" stroke-width="1.0"/>
<path d="M272.4 267.6V292.6M268.4 280.6H276.4M298.2 267.6V292.6M294.2 280.6H302.2" stroke="#e6bd55" stroke-width="0.9" opacity="0.85"/>
<circle cx="268.7" cy="276.8" r="0.9" fill="#7a7a7a"/>
<circle cx="270.0" cy="276.2" r="0.65" fill="#d6d6d6"/>
<circle cx="273.9" cy="286.8" r="0.9" fill="#7a7a7a"/>
<circle cx="275.2" cy="286.2" r="0.65" fill="#d6d6d6"/>
<circle cx="274.5" cy="275.7" r="0.9" fill="#7a7a7a"/>
<circle cx="275.8" cy="275.1" r="0.65" fill="#d6d6d6"/>
<circle cx="267.8" cy="280.5" r="0.9" fill="#7a7a7a"/>
<circle cx="269.1" cy="279.9" r="0.65" fill="#d6d6d6"/>
<circle cx="277.6" cy="280.7" r="0.9" fill="#7a7a7a"/>
<circle cx="278.9" cy="280.1" r="0.65" fill="#d6d6d6"/>
<circle cx="269.1" cy="278.9" r="0.9" fill="#7a7a7a"/>
<circle cx="270.4" cy="278.3" r="0.65" fill="#d6d6d6"/>
<circle cx="273.6" cy="276.7" r="0.9" fill="#7a7a7a"/>
<circle cx="274.9" cy="276.1" r="0.65" fill="#d6d6d6"/>
<circle cx="272.8" cy="283.9" r="0.9" fill="#7a7a7a"/>
<circle cx="274.1" cy="283.3" r="0.65" fill="#d6d6d6"/>
<circle cx="279.2" cy="280.5" r="0.9" fill="#7a7a7a"/>
<circle cx="280.5" cy="279.9" r="0.65" fill="#d6d6d6"/>
<circle cx="302.6" cy="276.6" r="0.9" fill="#7a7a7a"/>
<circle cx="303.9" cy="276.0" r="0.65" fill="#d6d6d6"/>
<circle cx="303.1" cy="281.6" r="0.9" fill="#7a7a7a"/>
<circle cx="304.4" cy="281.0" r="0.65" fill="#d6d6d6"/>
<circle cx="294.2" cy="280.7" r="0.9" fill="#7a7a7a"/>
<circle cx="295.5" cy="280.1" r="0.65" fill="#d6d6d6"/>
<circle cx="303.1" cy="279.2" r="0.9" fill="#7a7a7a"/>
<circle cx="304.4" cy="278.6" r="0.65" fill="#d6d6d6"/>
<circle cx="302.2" cy="285.9" r="0.9" fill="#7a7a7a"/>
<circle cx="303.5" cy="285.3" r="0.65" fill="#d6d6d6"/>
<circle cx="303.6" cy="285.5" r="0.9" fill="#7a7a7a"/>
<circle cx="304.9" cy="284.9" r="0.65" fill="#d6d6d6"/>
<circle cx="292.5" cy="282.2" r="0.9" fill="#7a7a7a"/>
<circle cx="293.8" cy="281.6" r="0.65" fill="#d6d6d6"/>
<circle cx="295.1" cy="284.9" r="0.9" fill="#7a7a7a"/>
<circle cx="296.4" cy="284.3" r="0.65" fill="#d6d6d6"/>
<circle cx="299.6" cy="283.6" r="0.9" fill="#7a7a7a"/>
<circle cx="300.9" cy="283.0" r="0.65" fill="#d6d6d6"/>
<circle cx="303.9" cy="274.0" r="0.9" fill="#7a7a7a"/>
<circle cx="305.2" cy="273.4" r="0.65" fill="#d6d6d6"/>
<circle cx="299.4" cy="273.4" r="0.9" fill="#7a7a7a"/>
<circle cx="300.7" cy="272.8" r="0.65" fill="#d6d6d6"/>
<circle cx="309.3" cy="289.2" r="0.9" fill="#7a7a7a"/>
<circle cx="310.6" cy="288.6" r="0.65" fill="#d6d6d6"/>
<circle cx="298.0" cy="286.1" r="0.9" fill="#7a7a7a"/>
<circle cx="299.3" cy="285.5" r="0.65" fill="#d6d6d6"/>
<circle cx="288.8" cy="285.4" r="0.9" fill="#7a7a7a"/>
<circle cx="290.1" cy="284.8" r="0.65" fill="#d6d6d6"/>
<circle cx="264.5" cy="279.6" r="0.9" fill="#7a7a7a"/>
<circle cx="265.8" cy="279.0" r="0.65" fill="#d6d6d6"/>
<circle cx="301.8" cy="273.2" r="0.9" fill="#7a7a7a"/>
<circle cx="303.1" cy="272.6" r="0.65" fill="#d6d6d6"/>
<circle cx="306.9" cy="289.0" r="0.9" fill="#7a7a7a"/>
<circle cx="308.2" cy="288.4" r="0.65" fill="#d6d6d6"/>
<circle cx="279.7" cy="277.0" r="0.9" fill="#7a7a7a"/>
<circle cx="281.0" cy="276.4" r="0.65" fill="#d6d6d6"/>
<circle cx="281.9" cy="277.5" r="0.9" fill="#7a7a7a"/>
<circle cx="283.2" cy="276.9" r="0.65" fill="#d6d6d6"/>
<circle cx="310.7" cy="277.5" r="0.9" fill="#7a7a7a"/>
<circle cx="312.0" cy="276.9" r="0.65" fill="#d6d6d6"/>
<circle cx="259.4" cy="270.7" r="0.9" fill="#7a7a7a"/>
<circle cx="260.7" cy="270.1" r="0.65" fill="#d6d6d6"/>
<circle cx="296.1" cy="291.4" r="0.9" fill="#7a7a7a"/>
<circle cx="297.4" cy="290.8" r="0.65" fill="#d6d6d6"/>
<circle cx="284.3" cy="279.9" r="0.9" fill="#7a7a7a"/>
<circle cx="285.6" cy="279.3" r="0.65" fill="#d6d6d6"/>
<circle cx="272.4" cy="280.6" r="2.5" fill="url(#cy)"/>
<circle cx="298.2" cy="280.6" r="2.5" fill="url(#cy)"/>
<circle cx="258.6" cy="264.8" r="3.0" fill="url(#pk)"/>
<circle cx="268.8" cy="264.3" r="3.0" fill="url(#pk)"/>
<circle cx="271.8" cy="264.9" r="3.2" fill="url(#pk)"/>
<circle cx="274.2" cy="264.8" r="3.0" fill="url(#pk)"/>
<circle cx="282.0" cy="264.3" r="3.0" fill="url(#pk)"/>
<circle cx="283.6" cy="264.2" r="3.2" fill="url(#pk)"/>
<circle cx="285.0" cy="264.5" r="3.0" fill="url(#pk)"/>
<circle cx="294.0" cy="264.5" r="3.0" fill="url(#pk)"/>
<circle cx="297.2" cy="264.8" r="3.2" fill="url(#pk)"/>
<circle cx="299.4" cy="264.4" r="3.0" fill="url(#pk)"/>
<circle cx="310.8" cy="264.1" r="3.0" fill="url(#pk)"/>
<circle cx="259.2" cy="295.1" r="3.0" fill="url(#pk)"/>
<circle cx="271.8" cy="296.1" r="3.0" fill="url(#pk)"/>
<circle cx="274.3" cy="295.5" r="3.2" fill="url(#pk)"/>
<circle cx="276.0" cy="296.0" r="3.0" fill="url(#pk)"/>
<circle cx="284.4" cy="296.3" r="3.0" fill="url(#pk)"/>
<circle cx="285.8" cy="296.3" r="3.2" fill="url(#pk)"/>
<circle cx="286.8" cy="295.6" r="3.0" fill="url(#pk)"/>
<circle cx="297.0" cy="296.3" r="3.0" fill="url(#pk)"/>
<circle cx="299.7" cy="295.8" r="3.2" fill="url(#pk)"/>
<circle cx="301.2" cy="296.2" r="3.0" fill="url(#pk)"/>
<circle cx="311.4" cy="295.7" r="3.0" fill="url(#pk)"/>
<path d="M257.0 308.6H311.0M257.0 339.6H311.0" stroke="#e6bd55" stroke-width="1.0"/>
<path d="M271.2 311.6V336.6M267.2 324.6H275.2M297.0 311.6V336.6M293.0 324.6H301.0" stroke="#e6bd55" stroke-width="0.9" opacity="0.85"/>
<circle cx="274.2" cy="321.9" r="0.9" fill="#7a7a7a"/>
<circle cx="275.5" cy="321.3" r="0.65" fill="#d6d6d6"/>
<circle cx="277.7" cy="327.3" r="0.9" fill="#7a7a7a"/>
<circle cx="279.0" cy="326.7" r="0.65" fill="#d6d6d6"/>
<circle cx="272.0" cy="319.5" r="0.9" fill="#7a7a7a"/>
<circle cx="273.3" cy="318.9" r="0.65" fill="#d6d6d6"/>
<circle cx="273.1" cy="321.7" r="0.9" fill="#7a7a7a"/>
<circle cx="274.4" cy="321.1" r="0.65" fill="#d6d6d6"/>
<circle cx="271.0" cy="328.9" r="0.9" fill="#7a7a7a"/>
<circle cx="272.3" cy="328.3" r="0.65" fill="#d6d6d6"/>
<circle cx="267.5" cy="326.5" r="0.9" fill="#7a7a7a"/>
<circle cx="268.8" cy="325.9" r="0.65" fill="#d6d6d6"/>
<circle cx="275.8" cy="326.5" r="0.9" fill="#7a7a7a"/>
<circle cx="277.1" cy="325.9" r="0.65" fill="#d6d6d6"/>
<circle cx="277.6" cy="320.4" r="0.9" fill="#7a7a7a"/>
<circle cx="278.9" cy="319.8" r="0.65" fill="#d6d6d6"/>
<circle cx="271.0" cy="319.5" r="0.9" fill="#7a7a7a"/>
<circle cx="272.3" cy="318.9" r="0.65" fill="#d6d6d6"/>
<circle cx="296.9" cy="331.6" r="0.9" fill="#7a7a7a"/>
<circle cx="298.2" cy="331.0" r="0.65" fill="#d6d6d6"/>
<circle cx="290.3" cy="323.6" r="0.9" fill="#7a7a7a"/>
<circle cx="291.6" cy="323.0" r="0.65" fill="#d6d6d6"/>
<circle cx="301.4" cy="325.3" r="0.9" fill="#7a7a7a"/>
<circle cx="302.7" cy="324.7" r="0.65" fill="#d6d6d6"/>
<circle cx="300.7" cy="319.2" r="0.9" fill="#7a7a7a"/>
<circle cx="302.0" cy="318.6" r="0.65" fill="#d6d6d6"/>
<circle cx="301.6" cy="320.8" r="0.9" fill="#7a7a7a"/>
<circle cx="302.9" cy="320.2" r="0.65" fill="#d6d6d6"/>
<circle cx="291.5" cy="327.1" r="0.9" fill="#7a7a7a"/>
<circle cx="292.8" cy="326.5" r="0.65" fill="#d6d6d6"/>
<circle cx="299.8" cy="321.0" r="0.9" fill="#7a7a7a"/>
<circle cx="301.1" cy="320.4" r="0.65" fill="#d6d6d6"/>
<circle cx="292.4" cy="323.7" r="0.9" fill="#7a7a7a"/>
<circle cx="293.7" cy="323.1" r="0.65" fill="#d6d6d6"/>
<circle cx="297.4" cy="321.4" r="0.9" fill="#7a7a7a"/>
<circle cx="298.7" cy="320.8" r="0.65" fill="#d6d6d6"/>
<circle cx="294.0" cy="334.5" r="0.9" fill="#7a7a7a"/>
<circle cx="295.3" cy="333.9" r="0.65" fill="#d6d6d6"/>
<circle cx="258.3" cy="326.3" r="0.9" fill="#7a7a7a"/>
<circle cx="259.6" cy="325.7" r="0.65" fill="#d6d6d6"/>
<circle cx="291.8" cy="332.2" r="0.9" fill="#7a7a7a"/>
<circle cx="293.1" cy="331.6" r="0.65" fill="#d6d6d6"/>
<circle cx="288.6" cy="318.5" r="0.9" fill="#7a7a7a"/>
<circle cx="289.9" cy="317.9" r="0.65" fill="#d6d6d6"/>
<circle cx="278.9" cy="334.7" r="0.9" fill="#7a7a7a"/>
<circle cx="280.2" cy="334.1" r="0.65" fill="#d6d6d6"/>
<circle cx="305.9" cy="315.7" r="0.9" fill="#7a7a7a"/>
<circle cx="307.2" cy="315.1" r="0.65" fill="#d6d6d6"/>
<circle cx="262.1" cy="314.8" r="0.9" fill="#7a7a7a"/>
<circle cx="263.4" cy="314.2" r="0.65" fill="#d6d6d6"/>
<circle cx="258.4" cy="322.9" r="0.9" fill="#7a7a7a"/>
<circle cx="259.7" cy="322.3" r="0.65" fill="#d6d6d6"/>
<circle cx="264.6" cy="332.5" r="0.9" fill="#7a7a7a"/>
<circle cx="265.9" cy="331.9" r="0.65" fill="#d6d6d6"/>
<circle cx="292.4" cy="315.5" r="0.9" fill="#7a7a7a"/>
<circle cx="293.7" cy="314.9" r="0.65" fill="#d6d6d6"/>
<circle cx="286.1" cy="320.1" r="0.9" fill="#7a7a7a"/>
<circle cx="287.4" cy="319.5" r="0.65" fill="#d6d6d6"/>
<circle cx="283.7" cy="317.7" r="0.9" fill="#7a7a7a"/>
<circle cx="285.0" cy="317.1" r="0.65" fill="#d6d6d6"/>
<circle cx="266.0" cy="316.8" r="0.9" fill="#7a7a7a"/>
<circle cx="267.3" cy="316.2" r="0.65" fill="#d6d6d6"/>
<circle cx="277.4" cy="328.9" r="0.9" fill="#7a7a7a"/>
<circle cx="278.7" cy="328.3" r="0.65" fill="#d6d6d6"/>
<circle cx="271.2" cy="324.6" r="2.5" fill="url(#cy)"/>
<circle cx="297.0" cy="324.6" r="2.5" fill="url(#cy)"/>
<circle cx="257.4" cy="308.8" r="3.0" fill="url(#pk)"/>
<circle cx="267.6" cy="309.0" r="3.0" fill="url(#pk)"/>
<circle cx="269.8" cy="309.2" r="3.2" fill="url(#pk)"/>
<circle cx="273.0" cy="309.1" r="3.0" fill="url(#pk)"/>
<circle cx="280.8" cy="308.0" r="3.0" fill="url(#pk)"/>
<circle cx="283.2" cy="308.6" r="3.2" fill="url(#pk)"/>
<circle cx="285.0" cy="308.1" r="3.0" fill="url(#pk)"/>
<circle cx="292.8" cy="308.2" r="3.0" fill="url(#pk)"/>
<circle cx="295.8" cy="309.0" r="3.2" fill="url(#pk)"/>
<circle cx="298.2" cy="308.4" r="3.0" fill="url(#pk)"/>
<circle cx="309.6" cy="309.0" r="3.0" fill="url(#pk)"/>
<circle cx="258.6" cy="339.4" r="3.0" fill="url(#pk)"/>
<circle cx="270.0" cy="339.5" r="3.0" fill="url(#pk)"/>
<circle cx="271.9" cy="339.4" r="3.2" fill="url(#pk)"/>
<circle cx="274.8" cy="340.3" r="3.0" fill="url(#pk)"/>
<circle cx="283.2" cy="339.7" r="3.0" fill="url(#pk)"/>
<circle cx="285.1" cy="339.8" r="3.2" fill="url(#pk)"/>
<circle cx="287.4" cy="340.3" r="3.0" fill="url(#pk)"/>
<circle cx="295.8" cy="339.8" r="3.0" fill="url(#pk)"/>
<circle cx="297.4" cy="339.7" r="3.2" fill="url(#pk)"/>
<circle cx="300.0" cy="340.0" r="3.0" fill="url(#pk)"/>
<circle cx="310.8" cy="340.4" r="3.0" fill="url(#pk)"/>
<path d="M377.0 264.4H430.0M377.0 295.6H430.0" stroke="#e6bd55" stroke-width="1.0"/>
<path d="M390.0 267.4V292.6M386.0 280.0H394.0M408.0 267.4V292.6M404.0 275.2H412.0M415.8 267.4V292.6M411.8 279.4H419.8M397.8 267.4V292.6M393.8 286.6H401.8M424.2 267.4V292.6M420.2 288.4H428.2" stroke="#e6bd55" stroke-width="0.9" opacity="0.85"/>
<circle cx="393.1" cy="273.5" r="0.9" fill="#7a7a7a"/>
<circle cx="394.4" cy="272.9" r="0.65" fill="#d6d6d6"/>
<circle cx="387.0" cy="283.5" r="0.9" fill="#7a7a7a"/>
<circle cx="388.3" cy="282.9" r="0.65" fill="#d6d6d6"/>
<circle cx="394.0" cy="279.8" r="0.9" fill="#7a7a7a"/>
<circle cx="395.3" cy="279.2" r="0.65" fill="#d6d6d6"/>
<circle cx="393.4" cy="281.6" r="0.9" fill="#7a7a7a"/>
<circle cx="394.7" cy="281.0" r="0.65" fill="#d6d6d6"/>
<circle cx="392.7" cy="274.3" r="0.9" fill="#7a7a7a"/>
<circle cx="394.0" cy="273.7" r="0.65" fill="#d6d6d6"/>
<circle cx="384.0" cy="281.8" r="0.9" fill="#7a7a7a"/>
<circle cx="385.3" cy="281.2" r="0.65" fill="#d6d6d6"/>
<circle cx="396.4" cy="280.7" r="0.9" fill="#7a7a7a"/>
<circle cx="397.7" cy="280.1" r="0.65" fill="#d6d6d6"/>
<circle cx="384.5" cy="281.9" r="0.9" fill="#7a7a7a"/>
<circle cx="385.8" cy="281.3" r="0.65" fill="#d6d6d6"/>
<circle cx="385.9" cy="283.1" r="0.9" fill="#7a7a7a"/>
<circle cx="387.2" cy="282.5" r="0.65" fill="#d6d6d6"/>
<circle cx="408.6" cy="278.5" r="0.9" fill="#7a7a7a"/>
<circle cx="409.9" cy="277.9" r="0.65" fill="#d6d6d6"/>
<circle cx="403.8" cy="276.9" r="0.9" fill="#7a7a7a"/>
<circle cx="405.1" cy="276.3" r="0.65" fill="#d6d6d6"/>
<circle cx="405.9" cy="269.0" r="0.9" fill="#7a7a7a"/>
<circle cx="407.2" cy="268.4" r="0.65" fill="#d6d6d6"/>
<circle cx="407.1" cy="270.3" r="0.9" fill="#7a7a7a"/>
<circle cx="408.4" cy="269.7" r="0.65" fill="#d6d6d6"/>
<circle cx="408.4" cy="279.9" r="0.9" fill="#7a7a7a"/>
<circle cx="409.7" cy="279.3" r="0.65" fill="#d6d6d6"/>
<circle cx="401.7" cy="275.7" r="0.9" fill="#7a7a7a"/>
<circle cx="403.0" cy="275.1" r="0.65" fill="#d6d6d6"/>
<circle cx="411.8" cy="274.4" r="0.9" fill="#7a7a7a"/>
<circle cx="413.1" cy="273.8" r="0.65" fill="#d6d6d6"/>
<circle cx="402.3" cy="275.9" r="0.9" fill="#7a7a7a"/>
<circle cx="403.6" cy="275.3" r="0.65" fill="#d6d6d6"/>
<circle cx="406.4" cy="268.6" r="0.9" fill="#7a7a7a"/>
<circle cx="407.7" cy="268.0" r="0.65" fill="#d6d6d6"/>
<circle cx="417.0" cy="273.8" r="0.9" fill="#7a7a7a"/>
<circle cx="418.3" cy="273.2" r="0.65" fill="#d6d6d6"/>
<circle cx="416.1" cy="273.6" r="0.9" fill="#7a7a7a"/>
<circle cx="417.4" cy="273.0" r="0.65" fill="#d6d6d6"/>
<circle cx="420.0" cy="274.8" r="0.9" fill="#7a7a7a"/>
<circle cx="421.3" cy="274.2" r="0.65" fill="#d6d6d6"/>
<circle cx="413.9" cy="275.6" r="0.9" fill="#7a7a7a"/>
<circle cx="415.2" cy="275.0" r="0.65" fill="#d6d6d6"/>
<circle cx="420.3" cy="277.0" r="0.9" fill="#7a7a7a"/>
<circle cx="421.6" cy="276.4" r="0.65" fill="#d6d6d6"/>
<circle cx="410.4" cy="275.1" r="0.9" fill="#7a7a7a"/>
<circle cx="411.7" cy="274.5" r="0.65" fill="#d6d6d6"/>
<circle cx="423.5" cy="277.8" r="0.9" fill="#7a7a7a"/>
<circle cx="424.8" cy="277.2" r="0.65" fill="#d6d6d6"/>
<circle cx="420.7" cy="279.6" r="0.9" fill="#7a7a7a"/>
<circle cx="422.0" cy="279.0" r="0.65" fill="#d6d6d6"/>
<circle cx="413.8" cy="283.8" r="0.9" fill="#7a7a7a"/>
<circle cx="415.1" cy="283.2" r="0.65" fill="#d6d6d6"/>
<circle cx="401.5" cy="290.9" r="0.9" fill="#7a7a7a"/>
<circle cx="402.8" cy="290.3" r="0.65" fill="#d6d6d6"/>
<circle cx="402.1" cy="288.7" r="0.9" fill="#7a7a7a"/>
<circle cx="403.4" cy="288.1" r="0.65" fill="#d6d6d6"/>
<circle cx="404.2" cy="284.4" r="0.9" fill="#7a7a7a"/>
<circle cx="405.5" cy="283.8" r="0.65" fill="#d6d6d6"/>
<circle cx="393.9" cy="287.4" r="0.9" fill="#7a7a7a"/>
<circle cx="395.2" cy="286.8" r="0.65" fill="#d6d6d6"/>
<circle cx="404.2" cy="284.9" r="0.9" fill="#7a7a7a"/>
<circle cx="405.5" cy="284.3" r="0.65" fill="#d6d6d6"/>
<circle cx="399.2" cy="290.9" r="0.9" fill="#7a7a7a"/>
<circle cx="400.5" cy="290.3" r="0.65" fill="#d6d6d6"/>
<circle cx="393.7" cy="282.0" r="0.9" fill="#7a7a7a"/>
<circle cx="395.0" cy="281.4" r="0.65" fill="#d6d6d6"/>
<circle cx="397.3" cy="293.6" r="0.9" fill="#7a7a7a"/>
<circle cx="398.6" cy="293.0" r="0.65" fill="#d6d6d6"/>
<circle cx="395.8" cy="290.4" r="0.9" fill="#7a7a7a"/>
<circle cx="397.1" cy="289.8" r="0.65" fill="#d6d6d6"/>
<circle cx="426.6" cy="285.3" r="0.9" fill="#7a7a7a"/>
<circle cx="427.9" cy="284.7" r="0.65" fill="#d6d6d6"/>
<circle cx="422.3" cy="284.8" r="0.9" fill="#7a7a7a"/>
<circle cx="423.6" cy="284.2" r="0.65" fill="#d6d6d6"/>
<circle cx="420.3" cy="285.9" r="0.9" fill="#7a7a7a"/>
<circle cx="421.6" cy="285.3" r="0.65" fill="#d6d6d6"/>
<circle cx="418.6" cy="293.2" r="0.9" fill="#7a7a7a"/>
<circle cx="419.9" cy="292.6" r="0.65" fill="#d6d6d6"/>
<circle cx="418.9" cy="289.4" r="0.9" fill="#7a7a7a"/>
<circle cx="420.2" cy="288.8" r="0.65" fill="#d6d6d6"/>
<circle cx="420.7" cy="285.5" r="0.9" fill="#7a7a7a"/>
<circle cx="422.0" cy="284.9" r="0.65" fill="#d6d6d6"/>
<circle cx="426.6" cy="292.6" r="0.9" fill="#7a7a7a"/>
<circle cx="427.9" cy="292.0" r="0.65" fill="#d6d6d6"/>
<circle cx="423.6" cy="292.3" r="0.9" fill="#7a7a7a"/>
<circle cx="424.9" cy="291.7" r="0.65" fill="#d6d6d6"/>
<circle cx="427.7" cy="287.6" r="0.9" fill="#7a7a7a"/>
<circle cx="429.0" cy="287.0" r="0.65" fill="#d6d6d6"/>
<circle cx="420.0" cy="290.1" r="0.9" fill="#7a7a7a"/>
<circle cx="421.3" cy="289.5" r="0.65" fill="#d6d6d6"/>
<circle cx="414.3" cy="268.8" r="0.9" fill="#7a7a7a"/>
<circle cx="415.6" cy="268.2" r="0.65" fill="#d6d6d6"/>
<circle cx="403.6" cy="269.3" r="0.9" fill="#7a7a7a"/>
<circle cx="404.9" cy="268.7" r="0.65" fill="#d6d6d6"/>
<circle cx="409.2" cy="284.6" r="0.9" fill="#7a7a7a"/>
<circle cx="410.5" cy="284.0" r="0.65" fill="#d6d6d6"/>
<circle cx="389.7" cy="268.6" r="0.9" fill="#7a7a7a"/>
<circle cx="391.0" cy="268.0" r="0.65" fill="#d6d6d6"/>
<circle cx="405.9" cy="270.6" r="0.9" fill="#7a7a7a"/>
<circle cx="407.2" cy="270.0" r="0.65" fill="#d6d6d6"/>
<circle cx="393.4" cy="278.9" r="0.9" fill="#7a7a7a"/>
<circle cx="394.7" cy="278.3" r="0.65" fill="#d6d6d6"/>
<circle cx="424.4" cy="277.0" r="0.9" fill="#7a7a7a"/>
<circle cx="425.7" cy="276.4" r="0.65" fill="#d6d6d6"/>
<circle cx="384.2" cy="286.8" r="0.9" fill="#7a7a7a"/>
<circle cx="385.5" cy="286.2" r="0.65" fill="#d6d6d6"/>
<circle cx="420.6" cy="280.7" r="0.9" fill="#7a7a7a"/>
<circle cx="421.9" cy="280.1" r="0.65" fill="#d6d6d6"/>
<circle cx="379.6" cy="272.8" r="0.9" fill="#7a7a7a"/>
<circle cx="380.9" cy="272.2" r="0.65" fill="#d6d6d6"/>
<circle cx="398.4" cy="281.2" r="0.9" fill="#7a7a7a"/>
<circle cx="399.7" cy="280.6" r="0.65" fill="#d6d6d6"/>
<circle cx="388.9" cy="287.0" r="0.9" fill="#7a7a7a"/>
<circle cx="390.2" cy="286.4" r="0.65" fill="#d6d6d6"/>
<circle cx="421.7" cy="289.9" r="0.9" fill="#7a7a7a"/>
<circle cx="423.0" cy="289.3" r="0.65" fill="#d6d6d6"/>
<circle cx="390.0" cy="280.0" r="2.5" fill="url(#cy)"/>
<circle cx="408.0" cy="275.2" r="2.5" fill="url(#cy)"/>
<circle cx="415.8" cy="279.4" r="2.5" fill="url(#cy)"/>
<circle cx="397.8" cy="286.6" r="2.5" fill="url(#cy)"/>
<circle cx="424.2" cy="288.4" r="2.5" fill="url(#cy)"/>
<circle cx="377.4" cy="265.0" r="3.0" fill="url(#pk)"/>
<circle cx="388.8" cy="264.6" r="3.0" fill="url(#pk)"/>
<circle cx="390.6" cy="263.9" r="3.2" fill="url(#pk)"/>
<circle cx="393.6" cy="265.1" r="3.0" fill="url(#pk)"/>
<circle cx="402.0" cy="264.9" r="3.0" fill="url(#pk)"/>
<circle cx="404.7" cy="264.1" r="3.2" fill="url(#pk)"/>
<circle cx="406.8" cy="263.9" r="3.0" fill="url(#pk)"/>
<circle cx="414.6" cy="264.6" r="3.0" fill="url(#pk)"/>
<circle cx="417.4" cy="264.7" r="3.2" fill="url(#pk)"/>
<circle cx="419.4" cy="264.5" r="3.0" fill="url(#pk)"/>
<circle cx="429.6" cy="264.9" r="3.0" fill="url(#pk)"/>
<circle cx="376.8" cy="295.5" r="3.0" fill="url(#pk)"/>
<circle cx="386.4" cy="295.5" r="3.0" fill="url(#pk)"/>
<circle cx="388.5" cy="295.4" r="3.2" fill="url(#pk)"/>
<circle cx="391.2" cy="295.9" r="3.0" fill="url(#pk)"/>
<circle cx="400.2" cy="295.1" r="3.0" fill="url(#pk)"/>
<circle cx="403.1" cy="295.1" r="3.2" fill="url(#pk)"/>
<circle cx="405.0" cy="295.7" r="3.0" fill="url(#pk)"/>
<circle cx="412.8" cy="295.3" r="3.0" fill="url(#pk)"/>
<circle cx="415.4" cy="295.4" r="3.2" fill="url(#pk)"/>
<circle cx="417.6" cy="295.1" r="3.0" fill="url(#pk)"/>
<circle cx="429.0" cy="295.1" r="3.0" fill="url(#pk)"/>
<path d="M377.0 307.8H430.0M377.0 339.2H430.0" stroke="#e6bd55" stroke-width="1.0"/>
<path d="M383.7 310.8V336.2M379.7 315.0H387.7M399.6 310.8V336.2M395.6 320.0H403.6M391.0 310.8V336.2M387.0 324.4H395.0M417.7 310.8V336.2M413.7 323.7H421.7M409.9 310.8V336.2M405.9 328.8H413.9" stroke="#e6bd55" stroke-width="0.9" opacity="0.85"/>
<circle cx="389.1" cy="312.7" r="0.9" fill="#7a7a7a"/>
<circle cx="390.4" cy="312.1" r="0.65" fill="#d6d6d6"/>
<circle cx="378.2" cy="318.2" r="0.9" fill="#7a7a7a"/>
<circle cx="379.5" cy="317.6" r="0.65" fill="#d6d6d6"/>
<circle cx="390.1" cy="318.1" r="0.9" fill="#7a7a7a"/>
<circle cx="391.4" cy="317.5" r="0.65" fill="#d6d6d6"/>
<circle cx="384.5" cy="318.2" r="0.9" fill="#7a7a7a"/>
<circle cx="385.8" cy="317.6" r="0.65" fill="#d6d6d6"/>
<circle cx="380.2" cy="319.3" r="0.9" fill="#7a7a7a"/>
<circle cx="381.5" cy="318.7" r="0.65" fill="#d6d6d6"/>
<circle cx="380.7" cy="312.2" r="0.9" fill="#7a7a7a"/>
<circle cx="382.0" cy="311.6" r="0.65" fill="#d6d6d6"/>
<circle cx="382.3" cy="310.0" r="0.9" fill="#7a7a7a"/>
<circle cx="383.6" cy="309.4" r="0.65" fill="#d6d6d6"/>
<circle cx="387.6" cy="320.6" r="0.9" fill="#7a7a7a"/>
<circle cx="388.9" cy="320.0" r="0.65" fill="#d6d6d6"/>
<circle cx="402.2" cy="313.6" r="0.9" fill="#7a7a7a"/>
<circle cx="403.5" cy="313.0" r="0.65" fill="#d6d6d6"/>
<circle cx="397.7" cy="316.4" r="0.9" fill="#7a7a7a"/>
<circle cx="399.0" cy="315.8" r="0.65" fill="#d6d6d6"/>
<circle cx="400.9" cy="313.3" r="0.9" fill="#7a7a7a"/>
<circle cx="402.2" cy="312.7" r="0.65" fill="#d6d6d6"/>
<circle cx="392.2" cy="318.6" r="0.9" fill="#7a7a7a"/>
<circle cx="393.5" cy="318.0" r="0.65" fill="#d6d6d6"/>
<circle cx="404.8" cy="319.1" r="0.9" fill="#7a7a7a"/>
<circle cx="406.1" cy="318.5" r="0.65" fill="#d6d6d6"/>
<circle cx="406.8" cy="317.5" r="0.9" fill="#7a7a7a"/>
<circle cx="408.1" cy="316.9" r="0.65" fill="#d6d6d6"/>
<circle cx="400.6" cy="316.9" r="0.9" fill="#7a7a7a"/>
<circle cx="401.9" cy="316.3" r="0.65" fill="#d6d6d6"/>
<circle cx="395.9" cy="324.5" r="0.9" fill="#7a7a7a"/>
<circle cx="397.2" cy="323.9" r="0.65" fill="#d6d6d6"/>
<circle cx="394.2" cy="316.1" r="0.9" fill="#7a7a7a"/>
<circle cx="395.5" cy="315.5" r="0.65" fill="#d6d6d6"/>
<circle cx="388.4" cy="321.4" r="0.9" fill="#7a7a7a"/>
<circle cx="389.7" cy="320.8" r="0.65" fill="#d6d6d6"/>
<circle cx="396.4" cy="322.1" r="0.9" fill="#7a7a7a"/>
<circle cx="397.7" cy="321.5" r="0.65" fill="#d6d6d6"/>
<circle cx="394.3" cy="321.7" r="0.9" fill="#7a7a7a"/>
<circle cx="395.6" cy="321.1" r="0.65" fill="#d6d6d6"/>
<circle cx="397.0" cy="324.3" r="0.9" fill="#7a7a7a"/>
<circle cx="398.3" cy="323.7" r="0.65" fill="#d6d6d6"/>
<circle cx="392.1" cy="318.3" r="0.9" fill="#7a7a7a"/>
<circle cx="393.4" cy="317.7" r="0.65" fill="#d6d6d6"/>
<circle cx="394.8" cy="321.3" r="0.9" fill="#7a7a7a"/>
<circle cx="396.1" cy="320.7" r="0.65" fill="#d6d6d6"/>
<circle cx="395.6" cy="326.8" r="0.9" fill="#7a7a7a"/>
<circle cx="396.9" cy="326.2" r="0.65" fill="#d6d6d6"/>
<circle cx="393.6" cy="329.2" r="0.9" fill="#7a7a7a"/>
<circle cx="394.9" cy="328.6" r="0.65" fill="#d6d6d6"/>
<circle cx="393.0" cy="320.2" r="0.9" fill="#7a7a7a"/>
<circle cx="394.3" cy="319.6" r="0.65" fill="#d6d6d6"/>
<circle cx="420.2" cy="326.1" r="0.9" fill="#7a7a7a"/>
<circle cx="421.5" cy="325.5" r="0.65" fill="#d6d6d6"/>
<circle cx="412.3" cy="326.3" r="0.9" fill="#7a7a7a"/>
<circle cx="413.6" cy="325.7" r="0.65" fill="#d6d6d6"/>
<circle cx="424.1" cy="324.7" r="0.9" fill="#7a7a7a"/>
<circle cx="425.4" cy="324.1" r="0.65" fill="#d6d6d6"/>
<circle cx="418.7" cy="327.2" r="0.9" fill="#7a7a7a"/>
<circle cx="420.0" cy="326.6" r="0.65" fill="#d6d6d6"/>
<circle cx="423.0" cy="321.4" r="0.9" fill="#7a7a7a"/>
<circle cx="424.3" cy="320.8" r="0.65" fill="#d6d6d6"/>
<circle cx="422.3" cy="320.5" r="0.9" fill="#7a7a7a"/>
<circle cx="423.6" cy="319.9" r="0.65" fill="#d6d6d6"/>
<circle cx="421.0" cy="326.6" r="0.9" fill="#7a7a7a"/>
<circle cx="422.3" cy="326.0" r="0.65" fill="#d6d6d6"/>
<circle cx="412.0" cy="326.3" r="0.9" fill="#7a7a7a"/>
<circle cx="413.3" cy="325.7" r="0.65" fill="#d6d6d6"/>
<circle cx="418.6" cy="317.6" r="0.9" fill="#7a7a7a"/>
<circle cx="419.9" cy="317.0" r="0.65" fill="#d6d6d6"/>
<circle cx="407.2" cy="325.4" r="0.9" fill="#7a7a7a"/>
<circle cx="408.5" cy="324.8" r="0.65" fill="#d6d6d6"/>
<circle cx="405.2" cy="330.8" r="0.9" fill="#7a7a7a"/>
<circle cx="406.5" cy="330.2" r="0.65" fill="#d6d6d6"/>
<circle cx="405.2" cy="329.1" r="0.9" fill="#7a7a7a"/>
<circle cx="406.5" cy="328.5" r="0.65" fill="#d6d6d6"/>
<circle cx="404.5" cy="327.6" r="0.9" fill="#7a7a7a"/>
<circle cx="405.8" cy="327.0" r="0.65" fill="#d6d6d6"/>
<circle cx="416.9" cy="330.2" r="0.9" fill="#7a7a7a"/>
<circle cx="418.2" cy="329.6" r="0.65" fill="#d6d6d6"/>
<circle cx="403.8" cy="325.5" r="0.9" fill="#7a7a7a"/>
<circle cx="405.1" cy="324.9" r="0.65" fill="#d6d6d6"/>
<circle cx="409.3" cy="322.7" r="0.9" fill="#7a7a7a"/>
<circle cx="410.6" cy="322.1" r="0.65" fill="#d6d6d6"/>
<circle cx="415.1" cy="328.6" r="0.9" fill="#7a7a7a"/>
<circle cx="416.4" cy="328.0" r="0.65" fill="#d6d6d6"/>
<circle cx="407.1" cy="330.8" r="0.9" fill="#7a7a7a"/>
<circle cx="408.4" cy="330.2" r="0.65" fill="#d6d6d6"/>
<circle cx="412.2" cy="325.4" r="0.9" fill="#7a7a7a"/>
<circle cx="413.5" cy="324.8" r="0.65" fill="#d6d6d6"/>
<circle cx="407.6" cy="335.1" r="0.9" fill="#7a7a7a"/>
<circle cx="408.9" cy="334.5" r="0.65" fill="#d6d6d6"/>
<circle cx="387.4" cy="317.1" r="0.9" fill="#7a7a7a"/>
<circle cx="388.7" cy="316.5" r="0.65" fill="#d6d6d6"/>
<circle cx="415.9" cy="330.8" r="0.9" fill="#7a7a7a"/>
<circle cx="417.2" cy="330.2" r="0.65" fill="#d6d6d6"/>
<circle cx="402.6" cy="313.1" r="0.9" fill="#7a7a7a"/>
<circle cx="403.9" cy="312.5" r="0.65" fill="#d6d6d6"/>
<circle cx="396.6" cy="331.1" r="0.9" fill="#7a7a7a"/>
<circle cx="397.9" cy="330.5" r="0.65" fill="#d6d6d6"/>
<circle cx="403.5" cy="322.6" r="0.9" fill="#7a7a7a"/>
<circle cx="404.8" cy="322.0" r="0.65" fill="#d6d6d6"/>
<circle cx="397.6" cy="326.5" r="0.9" fill="#7a7a7a"/>
<circle cx="398.9" cy="325.9" r="0.65" fill="#d6d6d6"/>
<circle cx="408.7" cy="328.0" r="0.9" fill="#7a7a7a"/>
<circle cx="410.0" cy="327.4" r="0.65" fill="#d6d6d6"/>
<circle cx="422.9" cy="329.4" r="0.9" fill="#7a7a7a"/>
<circle cx="424.2" cy="328.8" r="0.65" fill="#d6d6d6"/>
<circle cx="396.9" cy="317.7" r="0.9" fill="#7a7a7a"/>
<circle cx="398.2" cy="317.1" r="0.65" fill="#d6d6d6"/>
<circle cx="418.4" cy="330.4" r="0.9" fill="#7a7a7a"/>
<circle cx="419.7" cy="329.8" r="0.65" fill="#d6d6d6"/>
<circle cx="426.2" cy="316.5" r="0.9" fill="#7a7a7a"/>
<circle cx="427.5" cy="315.9" r="0.65" fill="#d6d6d6"/>
<circle cx="421.9" cy="332.6" r="0.9" fill="#7a7a7a"/>
<circle cx="423.2" cy="332.0" r="0.65" fill="#d6d6d6"/>
<circle cx="383.7" cy="315.0" r="2.5" fill="url(#cy)"/>
<circle cx="399.6" cy="320.0" r="2.5" fill="url(#cy)"/>
<circle cx="391.0" cy="324.4" r="2.5" fill="url(#cy)"/>
<circle cx="417.7" cy="323.7" r="2.5" fill="url(#cy)"/>
<circle cx="409.9" cy="328.8" r="2.5" fill="url(#cy)"/>
<circle cx="377.4" cy="307.3" r="3.0" fill="url(#pk)"/>
<circle cx="388.8" cy="308.1" r="3.0" fill="url(#pk)"/>
<circle cx="391.0" cy="307.4" r="3.2" fill="url(#pk)"/>
<circle cx="393.6" cy="308.4" r="3.0" fill="url(#pk)"/>
<circle cx="402.0" cy="308.2" r="3.0" fill="url(#pk)"/>
<circle cx="404.1" cy="307.6" r="3.2" fill="url(#pk)"/>
<circle cx="406.8" cy="307.5" r="3.0" fill="url(#pk)"/>
<circle cx="414.6" cy="307.9" r="3.0" fill="url(#pk)"/>
<circle cx="416.6" cy="308.2" r="3.2" fill="url(#pk)"/>
<circle cx="419.4" cy="307.5" r="3.0" fill="url(#pk)"/>
<circle cx="429.6" cy="308.2" r="3.0" fill="url(#pk)"/>
<circle cx="376.8" cy="339.1" r="3.0" fill="url(#pk)"/>
<circle cx="386.4" cy="339.1" r="3.0" fill="url(#pk)"/>
<circle cx="389.0" cy="338.9" r="3.2" fill="url(#pk)"/>
<circle cx="391.2" cy="338.8" r="3.0" fill="url(#pk)"/>
<circle cx="400.2" cy="339.6" r="3.0" fill="url(#pk)"/>
<circle cx="402.1" cy="339.2" r="3.2" fill="url(#pk)"/>
<circle cx="405.0" cy="338.8" r="3.0" fill="url(#pk)"/>
<circle cx="412.8" cy="339.5" r="3.0" fill="url(#pk)"/>
<circle cx="415.7" cy="338.6" r="3.2" fill="url(#pk)"/>
<circle cx="417.6" cy="339.6" r="3.0" fill="url(#pk)"/>
<circle cx="429.0" cy="339.4" r="3.0" fill="url(#pk)"/>
<path d="M67.6 242.0 L67.8 242.7 L68.1 243.4 L68.3 244.0 L68.6 244.6 L68.8 245.2 L69.1 245.8 L69.3 246.3 L69.6 246.8 L69.8 247.2 L70.1 247.7 L70.3 248.1 L70.6 248.5 L70.8 248.9 L71.1 249.2 L71.3 249.6 L71.6 249.9 L71.8 250.2 L72.1 250.5 L72.3 250.7 L72.6 251.0 L72.8 251.2 L73.1 251.5 L73.3 251.7 L73.6 251.9 L73.8 252.1 L74.1 252.3 L74.3 252.5 L74.6 252.6 L74.8 252.8 L75.1 252.9 L75.3 253.1 L75.6 253.2 L75.8 253.3 L76.1 253.5 L76.3 253.6 L76.6 253.7 L76.8 253.8 L77.1 253.9 L77.3 254.0 L77.6 254.1 L77.8 254.2 L78.1 254.2 L78.3 254.3 L78.6 254.4 L78.8 254.5 L79.1 254.5 L79.3 254.6 L79.6 254.6 L79.8 254.7 L80.1 254.7 L80.3 254.8 L80.6 254.8 L80.8 254.9 L81.1 254.9 L81.3 255.0 L81.6 255.0 L81.8 255.0 L82.1 255.1 L82.3 255.1 L82.5 254.9 L84.0 254.8 L85.5 255.3 L87.0 254.7 L88.5 255.1 L90.0 255.0 L91.5 254.7 L93.0 255.1 L94.5 254.6 L96.0 255.0 L97.5 254.7 L99.0 254.7 L100.5 255.0 L102.0 255.4 L103.5 254.7 L105.0 254.8 L106.5 255.2 L108.0 255.5 L109.5 255.2 L111.0 255.0 L112.5 255.6 L114.0 254.6 L115.5 255.5 L117.0 254.9 L118.5 254.7 L120.0 254.7 L121.5 254.9 L123.0 255.4 L124.5 254.8 L126.0 255.2 L127.5 255.2 L129.0 255.0 L130.5 255.1 L132.0 254.7 L133.5 254.7 L135.0 254.8 L136.5 255.3 L138.0 255.0 L139.5 254.9 L141.0 255.2 L142.5 255.1 L144.0 254.9 L145.5 255.4 L147.0 255.3 L148.5 254.8 L150.0 255.2 L151.5 255.1 L153.0 255.5 L154.5 255.3 L156.0 254.9 L157.5 255.6 L159.0 254.7 L160.5 255.0 L162.0 255.4 L163.5 254.8 L165.0 255.1 L166.5 254.6 L168.0 255.3 L169.5 255.4 L171.0 255.2 L172.5 255.5 L174.0 254.9 L175.5 255.3 L177.0 255.2 L178.5 255.2 L180.0 255.1 L181.5 255.4 L183.0 255.5 L184.5 255.1 L186.0 255.3 L187.5 254.7 L189.0 255.3 L190.5 255.2 L192.0 255.6 L193.5 255.4 L195.0 254.9 L196.5 255.0 L198.0 255.3 L199.5 254.6 L201.0 255.1 L202.5 254.8 L204.0 254.7 L205.5 254.7 L207.0 255.4 L208.5 254.7 L210.0 254.8 L211.5 255.0 L213.0 255.5 L214.5 254.7 L216.0 255.0 L217.5 255.1 L219.0 255.5 L220.5 255.4 L222.0 255.5 L223.5 254.9 L225.0 255.0 L226.5 255.0 L228.0 255.5 L229.5 255.6 L231.0 254.8 L232.5 254.8 L234.0 254.8 L235.5 254.8 L237.0 255.1 L238.5 255.2 L240.0 254.9 L241.5 254.6 L243.0 255.0 L244.5 255.0 L246.0 255.2 L247.5 255.6 L249.0 255.3 L250.5 255.1 L252.0 255.2 L253.5 255.3 L255.0 254.7 L256.5 255.5 L258.0 255.4 L259.5 255.5 L261.0 255.4 L262.5 255.0 L264.0 255.0 L265.5 254.7 L267.0 255.2 L268.5 254.7 L270.0 254.7 L271.5 254.8 L273.0 254.8 L274.5 254.9 L276.0 254.7 L277.5 254.6 L279.0 254.8 L280.5 254.7 L282.0 255.0 L283.5 254.6 L285.0 255.5 L286.5 255.2 L288.0 254.7 L289.5 254.9 L291.0 254.9 L292.5 255.0 L294.0 254.7 L295.5 255.4 L297.0 255.6 L298.5 255.1 L300.0 255.1 L301.5 254.7 L303.0 254.7 L304.5 254.9 L306.0 254.9 L307.5 255.4 L309.0 254.8 L310.5 254.6 L312.0 255.6 L313.5 255.1 L315.0 254.7 L316.5 255.1 L318.0 254.6 L319.5 255.1 L321.0 255.6 L322.5 255.5 L324.0 255.3 L325.5 254.9 L327.0 255.0 L328.5 254.8 L330.0 255.4 L331.5 255.1 L333.0 255.4 L334.5 254.9 L336.0 254.8 L337.5 255.4 L339.0 255.6 L340.5 255.5 L342.0 255.4 L343.5 255.4 L345.0 255.3 L346.5 254.8 L348.0 255.1 L349.5 255.0 L351.0 254.6 L352.5 254.6 L354.0 254.9 L355.5 254.9 L357.0 255.3 L358.5 255.6 L360.0 255.0 L361.5 255.5 L363.0 255.6 L364.5 255.6 L366.0 255.0 L367.5 254.8 L369.0 254.8 L370.5 254.8 L372.0 254.8 L373.5 255.2 L375.0 255.5 L376.5 255.4 L378.0 255.1 L379.5 255.3 L381.0 255.4 L382.5 254.7 L384.0 255.3 L385.5 255.5 L387.0 255.4 L388.5 255.4 L390.0 255.1 L391.5 254.8 L393.0 255.4 L394.5 254.9 L396.0 255.4 L397.5 255.6 L399.0 255.0 L400.5 255.0 L402.0 255.5 L403.5 255.3 L405.0 254.8 L406.5 254.7 L408.0 254.8 L409.5 255.5 L411.0 255.4 L412.5 254.7 L414.0 255.4 L415.5 255.6 L417.0 255.3 L418.5 255.0 L420.0 255.1 L421.5 254.7 L423.0 254.6 L424.5 255.6 L426.0 255.2 L427.5 255.1 L429.0 255.5 L430.5 255.0 L432.0 255.5 L433.5 255.4 L435.0 254.8 L436.5 254.9 L438.0 254.9 L439.5 254.8 L441.0 255.2 L442.5 254.9 L444.0 255.0 L445.5 254.7 L447.0 255.5 L448.5 255.0 L450.0 255.1 L451.5 255.2 L453.0 255.5 L454.5 255.0 L456.0 255.5 L457.5 255.1 L459.0 255.1 L460.5 255.1 L462.0 254.6 L463.5 255.0 L465.0 254.8 L466.5 254.6 L468.0 255.4 L469.5 254.8 L471.0 255.1 L472.5 255.3 L474.0 255.2 L475.5 254.9 L477.0 255.1 L478.5 255.2 L480.0 255.4 L481.5 254.7 L483.0 255.2 L484.5 254.8 L486.0 254.9 L487.5 255.4 L489.0 255.1 L490.5 255.2 L492.0 255.4 L493.5 255.5" fill="none" stroke="#1ba0e2" stroke-width="4.6" stroke-linejoin="round" stroke-linecap="round"/>
<circle cx="69.3" cy="387.2" r="2" fill="#f4644a"/>
<path d="M68.8 361V342" stroke="#f4644a" stroke-width="3.4" stroke-linecap="round"/>
<path d="M69.5 342.5 L71.0 342.5 L72.5 342.5 L74.0 342.3 L75.5 342.6 L77.0 342.9 L78.5 342.7 L80.0 342.7 L81.5 342.5 L83.0 341.7 L84.5 341.5 L86.0 341.8 L87.5 343.1 L89.0 344.2 L90.5 344.7 L92.0 345.5 L93.5 345.4 L95.0 345.0 L96.5 345.5 L98.0 345.6 L99.5 345.1 L101.0 345.7 L102.5 345.3 L104.0 345.5 L105.5 346.0 L107.0 346.1 L108.5 345.7 L110.0 346.1 L111.5 346.3 L113.0 346.4 L114.5 346.4 L116.0 346.7 L117.5 347.2 L119.0 346.8 L120.5 347.4 L122.0 347.4 L123.5 347.2 L125.0 347.5 L126.5 347.8 L128.0 347.8 L129.5 347.4 L131.0 348.1 L132.5 347.9 L134.0 348.0 L135.5 347.3 L137.0 347.3 L138.5 347.0 L140.0 347.5 L141.5 347.0 L143.0 346.7 L144.5 346.9 L146.0 347.2 L147.5 347.0 L149.0 346.5 L150.5 346.3 L152.0 346.9 L153.5 346.6 L155.0 346.8 L156.5 346.3 L158.0 346.3 L159.5 346.9 L161.0 346.8 L162.5 346.7 L164.0 347.5 L165.5 347.4 L167.0 347.8 L168.5 347.4 L170.0 348.2 L171.5 347.7 L173.0 348.5 L174.5 348.4 L176.0 348.4 L177.5 348.8 L179.0 349.2 L180.5 348.7 L182.0 348.7 L183.5 349.1 L185.0 348.9 L186.5 348.8 L188.0 348.8 L189.5 348.7 L191.0 348.7 L192.5 348.7 L194.0 348.6 L195.5 348.9 L197.0 348.4 L198.5 348.5 L200.0 348.1 L201.5 348.1 L203.0 347.8 L204.5 347.9 L206.0 347.6 L207.5 348.1 L209.0 348.0 L210.5 347.7 L212.0 347.9 L213.5 348.3 L215.0 347.7 L216.5 348.4 L218.0 348.2 L219.5 348.4 L221.0 348.8 L222.5 348.6 L224.0 348.9 L225.5 349.2 L227.0 349.7 L228.5 349.3 L230.0 349.9 L231.5 350.0 L233.0 350.1 L234.5 350.0 L236.0 350.1 L237.5 349.9 L239.0 350.1 L240.5 350.1 L242.0 350.6 L243.5 350.2 L245.0 350.1 L246.5 350.0 L248.0 350.6 L249.5 350.5 L251.0 350.2 L252.5 349.8 L254.0 349.7 L255.5 349.6 L257.0 349.6 L258.5 349.3 L260.0 349.4 L261.5 349.2 L263.0 349.7 L264.5 349.7 L266.0 349.3 L267.5 349.1 L269.0 349.7 L270.5 349.2 L272.0 349.3 L273.5 349.1 L275.0 349.6 L276.5 349.8 L278.0 350.0 L279.5 349.9 L281.0 350.3 L282.5 350.1 L284.0 350.5 L285.5 350.5 L287.0 350.9 L288.5 350.8 L290.0 351.0 L291.5 351.3 L293.0 351.4 L294.5 351.7 L296.0 351.7 L297.5 352.0 L299.0 351.9 L300.5 351.9 L302.0 352.0 L303.5 351.6 L305.0 351.5 L306.5 351.9 L308.0 351.1 L309.5 351.5 L311.0 351.3 L312.5 350.7 L314.0 351.2 L315.5 351.2 L317.0 350.9 L318.5 350.9 L320.0 350.9 L321.5 350.3 L323.0 350.6 L324.5 350.6 L326.0 350.9 L327.5 350.9 L329.0 351.0 L330.5 351.0 L332.0 351.3 L333.5 351.3 L335.0 351.5 L336.5 351.3 L338.0 351.3 L339.5 351.6 L341.0 351.9 L342.5 351.9 L344.0 352.7 L345.5 352.6 L347.0 352.8 L348.5 352.9 L350.0 353.1 L351.5 353.0 L353.0 352.7 L354.5 353.3 L356.0 353.3 L357.5 353.1 L359.0 353.1 L360.5 353.1 L362.0 352.6 L363.5 353.0 L365.0 352.5 L366.5 352.3 L368.0 352.3 L369.5 352.6 L371.0 352.0 L372.5 352.4 L374.0 352.5 L375.5 352.0 L377.0 351.9 L378.5 351.9 L380.0 352.1 L381.5 352.2 L383.0 352.1 L384.5 352.2 L386.0 351.8 L387.5 352.0 L389.0 352.2 L390.5 352.8 L392.0 352.6 L393.5 353.0 L395.0 352.7 L396.5 352.9 L398.0 353.3 L399.5 353.8 L401.0 354.0 L402.5 354.1 L404.0 353.9 L405.5 354.2 L407.0 354.3 L408.5 354.3 L410.0 354.1 L411.5 354.8 L413.0 354.2 L414.5 354.8 L416.0 354.7 L417.5 353.9 L419.0 354.2 L420.5 354.4 L422.0 354.4 L423.5 353.9 L425.0 353.6 L426.5 353.4 L428.0 353.9 L429.5 353.2 L431.0 353.5 L432.5 353.0 L434.0 353.3 L435.5 353.6 L437.0 353.0 L438.5 353.6 L440.0 353.4 L441.5 353.7 L443.0 353.7 L444.5 353.4 L446.0 354.1 L447.5 353.9 L449.0 353.7 L450.5 353.9 L452.0 354.5 L453.5 354.6 L455.0 354.7 L456.5 354.7 L458.0 355.1 L459.5 355.2 L461.0 355.7 L462.5 355.2 L464.0 355.9 L465.5 356.0 L467.0 355.5 L468.5 356.1 L470.0 355.9 L471.5 356.1 L473.0 355.5 L474.5 355.5 L476.0 355.4 L477.5 355.8 L479.0 355.4 L480.5 355.1 L482.0 355.0 L483.5 354.8 L485.0 354.5 L486.5 354.5 L488.0 355.0 L489.5 354.5 L491.0 355.0 L492.5 354.4" fill="none" stroke="#f95f40" stroke-width="5.8" stroke-linejoin="round" stroke-linecap="round"/>
<path d="M68 345.7H164.4" stroke="#111" stroke-width="1.8" stroke-dasharray="4.8 3 1 2.8"/>
<path d="M67 241.6H494.6M67 390.2H494.6" stroke="#000" stroke-width="1.6"/>
<path d="M67 241.2V390.2" stroke="#f4644a" stroke-width="1.3"/>
<path d="M494.6 240.8V391" stroke="#1ba0e2" stroke-width="1.7"/>
<path d="M67 387.80h-4.5M67 381.70h-2.5M67 375.61h-4.5M67 369.51h-2.5M67 363.42h-4.5M67 357.32h-2.5M67 351.22h-4.5M67 345.13h-2.5M67 339.03h-4.5M67 332.94h-2.5M67 326.84h-4.5M67 320.74h-2.5M67 314.65h-4.5M67 308.55h-2.5M67 302.46h-4.5M67 296.36h-2.5M67 290.26h-4.5M67 284.17h-2.5M67 278.07h-4.5M67 271.98h-2.5M67 265.88h-4.5M67 259.78h-2.5M67 253.69h-4.5M67 247.59h-2.5M67 241.50h-4.5" stroke="#f4644a" stroke-width="1.2"/>
<text transform="translate(60 392.80) scale(1 1.08)" text-anchor="end" font-family="Liberation Serif, serif" font-weight="bold" font-size="14.6" fill="#f4644a">0</text>
<text transform="translate(60 380.61) scale(1 1.08)" text-anchor="end" font-family="Liberation Serif, serif" font-weight="bold" font-size="14.6" fill="#f4644a">100</text>
<text transform="translate(60 368.42) scale(1 1.08)" text-anchor="end" font-family="Liberation Serif, serif" font-weight="bold" font-size="14.6" fill="#f4644a">200</text>
<text transform="translate(60 356.22) scale(1 1.08)" text-anchor="end" font-family="Liberation Serif, serif" font-weight="bold" font-size="14.6" fill="#f4644a">300</text>
<text transform="translate(60 344.03) scale(1 1.08)" text-anchor="end" font-family="Liberation Serif, serif" font-weight="bold" font-size="14.6" fill="#f4644a">400</text>
<text transform="translate(60 331.84) scale(1 1.08)" text-anchor="end" font-family="Liberation Serif, serif" font-weight="bold" font-size="14.6" fill="#f4644a">500</text>
<text transform="translate(60 319.65) scale(1 1.08)" text-anchor="end" font-family="Liberation Serif, serif" font-weight="bold" font-size="14.6" fill="#f4644a">600</text>
<text transform="translate(60 307.46) scale(1 1.08)" text-anchor="end" font-family="Liberation Serif, serif" font-weight="bold" font-size="14.6" fill="#f4644a">700</text>
<text transform="translate(60 295.26) scale(1 1.08)" text-anchor="end" font-family="Liberation Serif, serif" font-weight="bold" font-size="14.6" fill="#f4644a">800</text>
<text transform="translate(60 283.07) scale(1 1.08)" text-anchor="end" font-family="Liberation Serif, serif" font-weight="bold" font-size="14.6" fill="#f4644a">900</text>
<text transform="translate(60 270.88) scale(1 1.08)" text-anchor="end" font-family="Liberation Serif, serif" font-weight="bold" font-size="14.6" fill="#f4644a">1000</text>
<text transform="translate(60 258.69) scale(1 1.08)" text-anchor="end" font-family="Liberation Serif, serif" font-weight="bold" font-size="14.6" fill="#f4644a">1100</text>
<text transform="translate(60 246.50) scale(1 1.08)" text-anchor="end" font-family="Liberation Serif, serif" font-weight="bold" font-size="14.6" fill="#f4644a">1200</text>
<path d="M494.6 390.20h4.2M494.6 376.70h2.4M494.6 363.20h4.2M494.6 349.70h2.4M494.6 336.20h4.2M494.6 322.70h2.4M494.6 309.20h4.2M494.6 295.70h2.4M494.6 282.20h4.2M494.6 268.70h2.4M494.6 255.20h4.2M494.6 241.70h2.4" stroke="#1ba0e2" stroke-width="1.5"/>
<text x="502" y="394.70" font-family="Liberation Serif, serif" font-weight="bold" font-size="13.6" fill="#1ba0e2">0</text>
<text x="502" y="367.70" font-family="Liberation Serif, serif" font-weight="bold" font-size="13.6" fill="#1ba0e2">20</text>
<text x="502" y="340.70" font-family="Liberation Serif, serif" font-weight="bold" font-size="13.6" fill="#1ba0e2">40</text>
<text x="502" y="313.70" font-family="Liberation Serif, serif" font-weight="bold" font-size="13.6" fill="#1ba0e2">60</text>
<text x="502" y="286.70" font-family="Liberation Serif, serif" font-weight="bold" font-size="13.6" fill="#1ba0e2">80</text>
<text x="502" y="259.70" font-family="Liberation Serif, serif" font-weight="bold" font-size="13.6" fill="#1ba0e2">100</text>
<path d="M69.60 390.2v5.2M112.05 390.2v2.6M154.50 390.2v5.2M196.95 390.2v2.6M239.40 390.2v5.2M281.85 390.2v2.6M324.30 390.2v5.2M366.75 390.2v2.6M409.20 390.2v5.2M451.65 390.2v2.6M494.10 390.2v5.2" stroke="#000" stroke-width="1.6"/>
<text x="69.60" y="409.3" text-anchor="middle" font-family="Liberation Serif, serif" font-weight="bold" font-size="14.2" fill="#000">0</text>
<text x="154.50" y="409.3" text-anchor="middle" font-family="Liberation Serif, serif" font-weight="bold" font-size="14.2" fill="#000">1000</text>
<text x="239.40" y="409.3" text-anchor="middle" font-family="Liberation Serif, serif" font-weight="bold" font-size="14.2" fill="#000">2000</text>
<text x="324.30" y="409.3" text-anchor="middle" font-family="Liberation Serif, serif" font-weight="bold" font-size="14.2" fill="#000">3000</text>
<text x="409.20" y="409.3" text-anchor="middle" font-family="Liberation Serif, serif" font-weight="bold" font-size="14.2" fill="#000">4000</text>
<text x="494.10" y="409.3" text-anchor="middle" font-family="Liberation Serif, serif" font-weight="bold" font-size="14.2" fill="#000">5000</text>
<text x="225.5" y="429.6" font-family="Liberation Serif, serif" font-weight="bold" font-size="18.2" fill="#000">Cycle number</text>
<text transform="translate(19 404.5) rotate(-90)" font-family="Liberation Serif, serif" font-weight="bold" font-size="14.6" fill="#f4644a">Specific capacity <tspan font-size="17">(</tspan>mAh g<tspan font-size="9" dy="-6">-1</tspan><tspan font-size="17" dy="6">)</tspan></text>
<text transform="translate(525 246.6) rotate(90) scale(1 1.1)" font-family="Liberation Serif, serif" font-weight="bold" font-size="14.3" fill="#1ba0e2">Coulombic efficiency (%)</text>
<text x="183.6" y="368.4" font-family="Liberation Serif, serif" font-weight="bold" font-size="14.6" fill="#111">95.6%</text>
<text x="337" y="373" font-family="Liberation Serif, serif" font-weight="bold" font-size="14.2" fill="#111">89.2%</text>
<text x="440" y="345.5" font-family="Liberation Serif, serif" font-weight="bold" font-size="14.2" fill="#111">80.2 %</text>
<text x="444.4" y="380" font-family="Liberation Serif, serif" font-weight="bold" font-size="15" fill="#111">5 A g<tspan font-size="9" dy="-6">-1</tspan></text>
<path d="M240.0 349.0L228.9 355.1" stroke="#d8363a" stroke-width="1.3"/><path d="M223.6 358.0L227.5 352.7L230.2 357.6Z" fill="#d8363a"/>
<path d="M327.0 350.0L330.1 357.5" stroke="#d8363a" stroke-width="1.3"/><path d="M332.4 363.0L327.5 358.5L332.7 356.4Z" fill="#d8363a"/>
<path d="M493.5 354.0L485.3 346.9" stroke="#d8363a" stroke-width="1.3"/><path d="M480.8 343.0L487.2 344.8L483.5 349.0Z" fill="#d8363a"/>
<circle cx="92.3" cy="375" r="2.5" fill="#f4644a"/>
<text x="99.5" y="378.9" font-family="Liberation Serif, serif" font-weight="bold" font-size="12.2" fill="#111">Zn<tspan font-size="7.6" dy="1">0.36</tspan><tspan dy="-1">V</tspan><tspan font-size="7.6" dy="1">2</tspan><tspan dy="-1">O</tspan><tspan font-size="7.6" dy="1">5</tspan><tspan dy="-1">·nH</tspan><tspan font-size="7.6" dy="1">2</tspan><tspan dy="-1">O</tspan></text>
<text x="197.9" y="291.6" font-family="Liberation Serif, serif" font-weight="bold" font-size="11.6" fill="#1ba0e2">Conversion</text>
<path d="M207.2 303.7H232" stroke="#1ba0e2" stroke-width="1.8"/><path d="M244 303.7L229.5 300V307.5Z" fill="#1ba0e2"/>
<text x="326.5" y="273.5" font-family="Liberation Serif, serif" font-weight="bold" font-size="11.6" fill="#1ba0e2">Energy</text>
<text x="326.5" y="287.7" font-family="Liberation Serif, serif" font-weight="bold" font-size="11.6" fill="#1ba0e2">storage</text>
<path d="M327.6 295.4H352" stroke="#1ba0e2" stroke-width="1.8"/><path d="M361.5 295.4L350 292V298.8Z" fill="#1ba0e2"/>
<path d="M338 311.7H361.5" stroke="#1ba0e2" stroke-width="1.8"/><path d="M328.7 311.7L340.2 308.3V315.1Z" fill="#1ba0e2"/>
<text x="11" y="233.8" font-family="Liberation Sans, sans-serif" font-size="22" fill="#000">c</text>
</svg>
</body></html>
